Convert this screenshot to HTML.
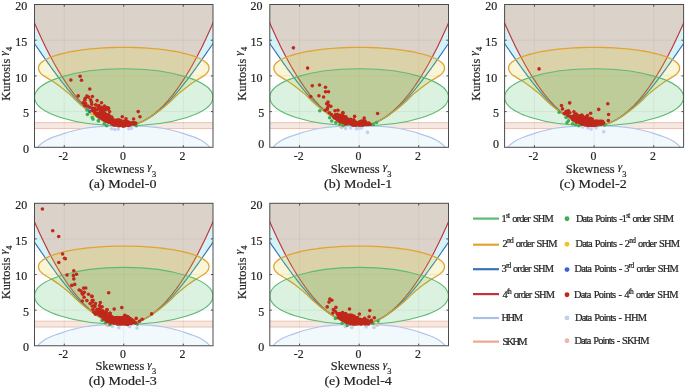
<!DOCTYPE html>
<html lang="en">
<head>
<meta charset="utf-8">
<title>Skewness–Kurtosis model regions</title>
<style>
html,body{margin:0;padding:0;background:#fff;}
body{width:685px;height:389px;overflow:hidden;}
svg{display:block;filter:blur(0.35px);}
text{font-family:"Liberation Serif","DejaVu Serif",serif;fill:#222;}
.tk{font-size:12px;stroke-width:0.2px;}
.lb{font-size:11.8px;stroke-width:0.18px;}
.cap{font-size:13.5px;stroke-width:0.2px;}
.lg{font-size:11.2px;word-spacing:1.2px;stroke-width:0.22px;}
.gm{font-style:italic;font-size:11px;}
.sub{font-size:8px;}
.sup{font-size:8px;}
text{stroke:#222;stroke-width:0.12px;paint-order:stroke;}
</style>
</head>
<body>
<svg width="685" height="389" viewBox="0 0 685 389" role="img" aria-label="Skewness-kurtosis validity regions of SHM, HHM and SKHM for five models">
<rect width="685" height="389" fill="#fff"/>
<clipPath id="clip_a"><rect x="34.5" y="4.5" width="178.5" height="142.8"/></clipPath>
<rect x="34.5" y="4.5" width="178.5" height="142.8" fill="#fff"/>
<g clip-path="url(#clip_a)">
<rect x="32.5" y="122.67" width="182.5" height="5.85" fill="rgba(215,163,131,0.25)"/>
<path d="M34.5 122.67H213M34.5 128.52H213" stroke="#efbba9" stroke-width="0.9" fill="none"/>
<path d="M35.69 150.51C36.06 149.98 37.07 148.34 37.89 147.3C38.71 146.26 39.14 145.52 40.63 144.3C42.12 143.09 44.24 141.37 46.82 140.02C49.39 138.66 53.19 137.26 56.1 136.16C59 135.06 61.68 134.22 64.25 133.4C66.82 132.58 68.34 132.06 71.51 131.25C74.68 130.44 79.14 129.26 83.29 128.52C87.44 127.78 92.12 127.21 96.38 126.81C100.64 126.41 104.31 126.28 108.88 126.13C113.44 125.98 118.79 125.88 123.75 125.88C128.71 125.88 134.06 125.98 138.62 126.13C143.19 126.28 146.86 126.41 151.12 126.81C155.38 127.21 160.06 127.78 164.21 128.52C168.36 129.26 172.82 130.44 175.99 131.25C179.16 132.06 180.68 132.58 183.25 133.4C185.82 134.22 188.5 135.06 191.4 136.16C194.31 137.26 198.11 138.66 200.68 140.02C203.26 141.37 205.38 143.09 206.87 144.3C208.36 145.52 208.79 146.26 209.61 147.3C210.43 148.34 211.44 149.98 211.81 150.51V152.3H35.69Z" fill="#fff"/>
<ellipse cx="123.75" cy="97.32" rx="89.25" ry="28.56" fill="#fff"/>
<path d="M64.25 4.5V147.3M123.75 4.5V147.3M183.25 4.5V147.3M34.5 111.6H213M34.5 75.9H213M34.5 40.2H213" stroke="#000" stroke-opacity="0.10" stroke-width="0.6" fill="none"/>
<path d="M35.69 150.51C36.06 149.98 37.07 148.34 37.89 147.3C38.71 146.26 39.14 145.52 40.63 144.3C42.12 143.09 44.24 141.37 46.82 140.02C49.39 138.66 53.19 137.26 56.1 136.16C59 135.06 61.68 134.22 64.25 133.4C66.82 132.58 68.34 132.06 71.51 131.25C74.68 130.44 79.14 129.26 83.29 128.52C87.44 127.78 92.12 127.21 96.38 126.81C100.64 126.41 104.31 126.28 108.88 126.13C113.44 125.98 118.79 125.88 123.75 125.88C128.71 125.88 134.06 125.98 138.62 126.13C143.19 126.28 146.86 126.41 151.12 126.81C155.38 127.21 160.06 127.78 164.21 128.52C168.36 129.26 172.82 130.44 175.99 131.25C179.16 132.06 180.68 132.58 183.25 133.4C185.82 134.22 188.5 135.06 191.4 136.16C194.31 137.26 198.11 138.66 200.68 140.02C203.26 141.37 205.38 143.09 206.87 144.3C208.36 145.52 208.79 146.26 209.61 147.3C210.43 148.34 211.44 149.98 211.81 150.51V152.3H35.69Z" fill="rgba(150,205,240,0.13)"/>
<path d="M35.69 150.51C36.06 149.98 37.07 148.34 37.89 147.3C38.71 146.26 39.14 145.52 40.63 144.3C42.12 143.09 44.24 141.37 46.82 140.02C49.39 138.66 53.19 137.26 56.1 136.16C59 135.06 61.68 134.22 64.25 133.4C66.82 132.58 68.34 132.06 71.51 131.25C74.68 130.44 79.14 129.26 83.29 128.52C87.44 127.78 92.12 127.21 96.38 126.81C100.64 126.41 104.31 126.28 108.88 126.13C113.44 125.98 118.79 125.88 123.75 125.88C128.71 125.88 134.06 125.98 138.62 126.13C143.19 126.28 146.86 126.41 151.12 126.81C155.38 127.21 160.06 127.78 164.21 128.52C168.36 129.26 172.82 130.44 175.99 131.25C179.16 132.06 180.68 132.58 183.25 133.4C185.82 134.22 188.5 135.06 191.4 136.16C194.31 137.26 198.11 138.66 200.68 140.02C203.26 141.37 205.38 143.09 206.87 144.3C208.36 145.52 208.79 146.26 209.61 147.3C210.43 148.34 211.44 149.98 211.81 150.51" fill="none" stroke="#b0c5ea" stroke-width="1.2" stroke-linejoin="round"/>
<path d="M28.55 35.03L30.04 37.15L31.52 39.28L33.01 41.42L34.5 43.56L35.99 45.71L37.48 47.86L38.96 50.01L40.45 52.16L41.94 54.3L43.42 56.44L44.91 58.58L46.4 60.7L47.89 62.81L49.38 64.91L50.86 67L52.35 69.07L53.84 71.12L55.33 73.15L56.81 75.16L58.3 77.16L59.79 79.12L61.27 81.06L62.76 82.98L64.25 84.87L65.74 86.73L67.22 88.55L68.71 90.35L70.2 92.12L71.69 93.84L73.18 95.54L74.66 97.2L76.15 98.82L77.64 100.4L79.12 101.94L80.61 103.44L82.1 104.9L83.59 106.32L85.07 107.69L86.56 109.02L88.05 110.3L89.54 111.54L91.03 112.73L92.51 113.87L94 114.96L95.49 116.01L96.97 117L98.46 117.95L99.95 118.84L101.44 119.68L102.92 120.48L104.41 121.21L105.9 121.9L107.39 122.53L108.88 123.11L110.36 123.63L111.85 124.1L113.34 124.52L114.83 124.88L116.31 125.18L117.8 125.43L119.29 125.63L120.77 125.77L122.26 125.85L123.75 125.88L125.24 125.85L126.73 125.77L128.21 125.63L129.7 125.43L131.19 125.18L132.68 124.88L134.16 124.52L135.65 124.1L137.14 123.63L138.62 123.11L140.11 122.53L141.6 121.9L143.09 121.21L144.57 120.48L146.06 119.68L147.55 118.84L149.04 117.95L150.52 117L152.01 116.01L153.5 114.96L154.99 113.87L156.47 112.73L157.96 111.54L159.45 110.3L160.94 109.02L162.43 107.69L163.91 106.32L165.4 104.9L166.89 103.44L168.38 101.94L169.86 100.4L171.35 98.82L172.84 97.2L174.33 95.54L175.81 93.84L177.3 92.12L178.79 90.35L180.28 88.55L181.76 86.73L183.25 84.87L184.74 82.98L186.22 81.06L187.71 79.12L189.2 77.16L190.69 75.16L192.17 73.15L193.66 71.12L195.15 69.07L196.64 67L198.12 64.91L199.61 62.81L201.1 60.7L202.59 58.58L204.08 56.44L205.56 54.3L207.05 52.16L208.54 50.01L210.03 47.86L211.51 45.71L213 43.56L214.49 41.42L215.97 39.28L217.46 37.15L218.95 35.03V-0.5H28.55Z" fill="rgba(23,190,207,0.18)"/>
<path d="M28.55 8.9L30.04 12.53L31.52 16.1L33.01 19.61L34.5 23.06L35.99 26.46L37.48 29.8L38.96 33.09L40.45 36.32L41.94 39.49L43.42 42.6L44.91 45.65L46.4 48.65L47.89 51.6L49.38 54.48L50.86 57.31L52.35 60.08L53.84 62.79L55.33 65.45L56.81 68.05L58.3 70.59L59.79 73.07L61.27 75.5L62.76 77.87L64.25 80.18L65.74 82.44L67.22 84.64L68.71 86.78L70.2 88.87L71.69 90.89L73.18 92.86L74.66 94.78L76.15 96.63L77.64 98.43L79.12 100.18L80.61 101.86L82.1 103.49L83.59 105.06L85.07 106.57L86.56 108.03L88.05 109.43L89.54 110.77L91.03 112.06L92.51 113.29L94 114.46L95.49 115.57L96.97 116.63L98.46 117.63L99.95 118.57L101.44 119.45L102.92 120.28L104.41 121.05L105.9 121.77L107.39 122.42L108.88 123.02L110.36 123.57L111.85 124.05L113.34 124.48L114.83 124.85L116.31 125.17L117.8 125.42L119.29 125.62L120.77 125.77L122.26 125.85L123.75 125.88L125.24 125.85L126.73 125.77L128.21 125.62L129.7 125.42L131.19 125.17L132.68 124.85L134.16 124.48L135.65 124.05L137.14 123.57L138.62 123.02L140.11 122.42L141.6 121.77L143.09 121.05L144.57 120.28L146.06 119.45L147.55 118.57L149.04 117.63L150.52 116.63L152.01 115.57L153.5 114.46L154.99 113.29L156.47 112.06L157.96 110.77L159.45 109.43L160.94 108.03L162.43 106.57L163.91 105.06L165.4 103.49L166.89 101.86L168.38 100.18L169.86 98.43L171.35 96.63L172.84 94.78L174.33 92.86L175.81 90.89L177.3 88.87L178.79 86.78L180.28 84.64L181.76 82.44L183.25 80.18L184.74 77.87L186.22 75.5L187.71 73.07L189.2 70.59L190.69 68.05L192.17 65.45L193.66 62.79L195.15 60.08L196.64 57.31L198.12 54.48L199.61 51.6L201.1 48.65L202.59 45.65L204.08 42.6L205.56 39.49L207.05 36.32L208.54 33.09L210.03 29.8L211.51 26.46L213 23.06L214.49 19.61L215.97 16.1L217.46 12.53L218.95 8.9V-0.5H28.55Z" fill="rgba(244,82,24,0.205)"/>
<path d="M28.55 8.9L30.04 12.53L31.52 16.1L33.01 19.61L34.5 23.06L35.99 26.46L37.48 29.8L38.96 33.09L40.45 36.32L41.94 39.49L43.42 42.6L44.91 45.65L46.4 48.65L47.89 51.6L49.38 54.48L50.86 57.31L52.35 60.08L53.84 62.79L55.33 65.45L56.81 68.05L58.3 70.59L59.79 73.07L61.27 75.5L62.76 77.87L64.25 80.18L65.74 82.44L67.22 84.64L68.71 86.78L70.2 88.87L71.69 90.89L73.18 92.86L74.66 94.78L76.15 96.63L77.64 98.43L79.12 100.18L80.61 101.86L82.1 103.49L83.59 105.06L85.07 106.57L86.56 108.03L88.05 109.43L89.54 110.77L91.03 112.06L92.51 113.29L94 114.46L95.49 115.57L96.97 116.63L98.46 117.63L99.95 118.57L101.44 119.45L102.92 120.28L104.41 121.05L105.9 121.77L107.39 122.42L108.88 123.02L110.36 123.57L111.85 124.05L113.34 124.48L114.83 124.85L116.31 125.17L117.8 125.42L119.29 125.62L120.77 125.77L122.26 125.85L123.75 125.88L125.24 125.85L126.73 125.77L128.21 125.62L129.7 125.42L131.19 125.17L132.68 124.85L134.16 124.48L135.65 124.05L137.14 123.57L138.62 123.02L140.11 122.42L141.6 121.77L143.09 121.05L144.57 120.28L146.06 119.45L147.55 118.57L149.04 117.63L150.52 116.63L152.01 115.57L153.5 114.46L154.99 113.29L156.47 112.06L157.96 110.77L159.45 109.43L160.94 108.03L162.43 106.57L163.91 105.06L165.4 103.49L166.89 101.86L168.38 100.18L169.86 98.43L171.35 96.63L172.84 94.78L174.33 92.86L175.81 90.89L177.3 88.87L178.79 86.78L180.28 84.64L181.76 82.44L183.25 80.18L184.74 77.87L186.22 75.5L187.71 73.07L189.2 70.59L190.69 68.05L192.17 65.45L193.66 62.79L195.15 60.08L196.64 57.31L198.12 54.48L199.61 51.6L201.1 48.65L202.59 45.65L204.08 42.6L205.56 39.49L207.05 36.32L208.54 33.09L210.03 29.8L211.51 26.46L213 23.06L214.49 19.61L215.97 16.1L217.46 12.53L218.95 8.9" fill="none" stroke="#c4323a" stroke-width="1.15"/>
<path d="M28.55 35.03L30.04 37.15L31.52 39.28L33.01 41.42L34.5 43.56L35.99 45.71L37.48 47.86L38.96 50.01L40.45 52.16L41.94 54.3L43.42 56.44L44.91 58.58L46.4 60.7L47.89 62.81L49.38 64.91L50.86 67L52.35 69.07L53.84 71.12L55.33 73.15L56.81 75.16L58.3 77.16L59.79 79.12L61.27 81.06L62.76 82.98L64.25 84.87L65.74 86.73L67.22 88.55L68.71 90.35L70.2 92.12L71.69 93.84L73.18 95.54L74.66 97.2L76.15 98.82L77.64 100.4L79.12 101.94L80.61 103.44L82.1 104.9L83.59 106.32L85.07 107.69L86.56 109.02L88.05 110.3L89.54 111.54L91.03 112.73L92.51 113.87L94 114.96L95.49 116.01L96.97 117L98.46 117.95L99.95 118.84L101.44 119.68L102.92 120.48L104.41 121.21L105.9 121.9L107.39 122.53L108.88 123.11L110.36 123.63L111.85 124.1L113.34 124.52L114.83 124.88L116.31 125.18L117.8 125.43L119.29 125.63L120.77 125.77L122.26 125.85L123.75 125.88L125.24 125.85L126.73 125.77L128.21 125.63L129.7 125.43L131.19 125.18L132.68 124.88L134.16 124.52L135.65 124.1L137.14 123.63L138.62 123.11L140.11 122.53L141.6 121.9L143.09 121.21L144.57 120.48L146.06 119.68L147.55 118.84L149.04 117.95L150.52 117L152.01 116.01L153.5 114.96L154.99 113.87L156.47 112.73L157.96 111.54L159.45 110.3L160.94 109.02L162.43 107.69L163.91 106.32L165.4 104.9L166.89 103.44L168.38 101.94L169.86 100.4L171.35 98.82L172.84 97.2L174.33 95.54L175.81 93.84L177.3 92.12L178.79 90.35L180.28 88.55L181.76 86.73L183.25 84.87L184.74 82.98L186.22 81.06L187.71 79.12L189.2 77.16L190.69 75.16L192.17 73.15L193.66 71.12L195.15 69.07L196.64 67L198.12 64.91L199.61 62.81L201.1 60.7L202.59 58.58L204.08 56.44L205.56 54.3L207.05 52.16L208.54 50.01L210.03 47.86L211.51 45.71L213 43.56L214.49 41.42L215.97 39.28L217.46 37.15L218.95 35.03" fill="none" stroke="#3574b8" stroke-width="1.15"/>
<path d="M123.75 125.88L132.73 124.89L136.45 123.91L139.3 122.92L141.69 121.94L143.78 120.95L145.66 119.97L147.38 118.98L148.98 118L150.51 117.01L151.97 116.03L153.4 115.04L154.8 114.06L156.17 113.07L157.52 112.09L158.84 111.1L160.13 110.12L161.4 109.13L162.64 108.15L163.85 107.16L165.04 106.18L166.21 105.19L167.38 104.21L168.52 103.22L169.64 102.24L170.73 101.25L171.78 100.27L172.78 99.28L173.74 98.3L174.68 97.31L175.65 96.33L176.66 95.34L177.73 94.36L178.86 93.37L180.03 92.39L181.22 91.4L182.45 90.42L183.7 89.43L184.97 88.45L186.24 87.46L187.53 86.48L188.85 85.49L190.22 84.51L191.63 83.52L193.07 82.54L194.53 81.55L196.05 80.57L197.63 79.58L199.26 78.6L200.89 77.61L202.48 76.63L204 75.64L205.24 74.66L206.34 73.67L207.26 72.69L207.94 71.7L208.44 70.72L208.74 69.73L208.91 68.75L208.98 67.76L208.92 66.96L208.72 66.16L208.39 65.36L207.93 64.57L207.35 63.78L206.63 62.99L205.78 62.22L204.81 61.45L203.72 60.69L202.5 59.95L201.15 59.21L199.69 58.49L198.12 57.78L196.42 57.09L194.62 56.42L192.71 55.76L190.69 55.12L188.56 54.5L186.34 53.9L184.02 53.32L181.61 52.77L179.1 52.23L176.52 51.72L173.85 51.24L171.1 50.78L168.28 50.35L165.4 49.94L162.45 49.57L159.43 49.22L156.37 48.89L153.25 48.6L150.09 48.34L146.89 48.11L143.65 47.9L140.38 47.73L137.08 47.59L133.77 47.48L130.44 47.4L127.1 47.36L123.75 47.34L120.4 47.36L117.06 47.4L113.73 47.48L110.42 47.59L107.12 47.73L103.85 47.9L100.61 48.11L97.41 48.34L94.25 48.6L91.13 48.89L88.07 49.22L85.05 49.57L82.1 49.94L79.22 50.35L76.4 50.78L73.65 51.24L70.98 51.72L68.4 52.23L65.89 52.77L63.48 53.32L61.16 53.9L58.94 54.5L56.81 55.12L54.79 55.76L52.88 56.42L51.08 57.09L49.38 57.78L47.81 58.49L46.35 59.21L45 59.95L43.78 60.69L42.69 61.45L41.72 62.22L40.87 62.99L40.15 63.78L39.57 64.57L39.11 65.36L38.78 66.16L38.58 66.96L38.52 67.76L38.59 68.75L38.76 69.73L39.06 70.72L39.56 71.7L40.24 72.69L41.16 73.67L42.26 74.66L43.5 75.64L45.02 76.63L46.61 77.61L48.24 78.6L49.87 79.58L51.45 80.57L52.97 81.55L54.43 82.54L55.87 83.52L57.28 84.51L58.65 85.49L59.97 86.48L61.26 87.46L62.53 88.45L63.8 89.43L65.05 90.42L66.28 91.4L67.47 92.39L68.64 93.37L69.77 94.36L70.84 95.34L71.85 96.33L72.82 97.31L73.76 98.3L74.72 99.28L75.72 100.27L76.77 101.25L77.86 102.24L78.98 103.22L80.12 104.21L81.29 105.19L82.46 106.18L83.65 107.16L84.86 108.15L86.1 109.13L87.37 110.12L88.66 111.1L89.98 112.09L91.33 113.07L92.7 114.06L94.1 115.04L95.53 116.03L96.99 117.01L98.52 118L100.12 118.98L101.84 119.97L103.72 120.95L105.81 121.94L108.2 122.92L111.05 123.91L114.77 124.89Z" fill="rgba(222,210,48,0.20)" stroke="#e3a332" stroke-width="1.3"/>
<ellipse cx="123.75" cy="97.32" rx="89.25" ry="28.56" fill="rgba(49,178,73,0.17)" stroke="#5dba74" stroke-width="1.15"/>
<g fill="#c3d0ee"><circle cx="111.6" cy="128.7" r="1.8"/><circle cx="114.9" cy="129.5" r="1.8"/><circle cx="118.2" cy="129.1" r="1.8"/><circle cx="128.9" cy="128.7" r="1.8"/><circle cx="131.4" cy="128.3" r="1.8"/></g>
<g fill="#3fae55"><circle cx="86.9" cy="109.9" r="1.8"/><circle cx="87.4" cy="114.4" r="1.8"/><circle cx="92.2" cy="117.5" r="1.8"/><circle cx="93" cy="119.1" r="1.8"/><circle cx="98.4" cy="120.8" r="1.8"/><circle cx="98.5" cy="120.9" r="1.8"/><circle cx="104.2" cy="123.7" r="1.8"/><circle cx="106.7" cy="125.8" r="1.8"/><circle cx="136.3" cy="125.8" r="1.8"/></g>
<g fill="#f0c420"><circle cx="91.4" cy="113.8" r="1.8"/></g>
<g fill="#3b62d8"><circle cx="89.6" cy="111.6" r="1.8"/></g>
<g fill="#c0281c"><circle cx="80.1" cy="76.2" r="1.8"/><circle cx="70.9" cy="80" r="1.8"/><circle cx="81.5" cy="80.3" r="1.8"/><circle cx="89.8" cy="89" r="1.8"/><circle cx="78.2" cy="95.9" r="1.8"/><circle cx="86.9" cy="96.1" r="1.8"/><circle cx="88.5" cy="97.1" r="1.8"/><circle cx="92.4" cy="96.5" r="1.8"/><circle cx="85.2" cy="98.2" r="1.8"/><circle cx="90.6" cy="99.8" r="1.8"/><circle cx="84.8" cy="100.2" r="1.8"/><circle cx="97.1" cy="100.6" r="1.8"/><circle cx="91.4" cy="101.9" r="1.8"/><circle cx="83.2" cy="102.7" r="1.8"/><circle cx="101.5" cy="102.7" r="1.8"/><circle cx="85.6" cy="103.5" r="1.8"/><circle cx="95.7" cy="104.7" r="1.8"/><circle cx="91.8" cy="104.3" r="1.8"/><circle cx="84.8" cy="105.6" r="1.8"/><circle cx="87.7" cy="106" r="1.8"/><circle cx="98.8" cy="105.6" r="1.8"/><circle cx="104.5" cy="106.1" r="1.8"/><circle cx="89.7" cy="107.2" r="1.8"/><circle cx="92.2" cy="108" r="1.8"/><circle cx="101.3" cy="107.2" r="1.8"/><circle cx="108.4" cy="108.4" r="1.8"/><circle cx="98.8" cy="108.4" r="1.8"/><circle cx="104.5" cy="109.3" r="1.8"/><circle cx="92.2" cy="110.5" r="1.8"/><circle cx="101.3" cy="110.9" r="1.8"/><circle cx="94.7" cy="112.6" r="1.8"/><circle cx="96.3" cy="114.2" r="1.8"/><circle cx="108.5" cy="108.4" r="1.8"/><circle cx="138.2" cy="111.6" r="1.8"/><circle cx="140" cy="116.7" r="1.8"/><circle cx="122.3" cy="116.7" r="1.8"/><circle cx="126" cy="118.8" r="1.8"/><circle cx="133.6" cy="119" r="1.8"/><circle cx="98" cy="106.8" r="1.8"/><circle cx="102.9" cy="108.4" r="1.8"/><circle cx="106.2" cy="109.7" r="1.8"/><circle cx="100.4" cy="109.7" r="1.8"/><circle cx="97.1" cy="109.7" r="1.8"/><circle cx="94.7" cy="108.4" r="1.8"/><circle cx="94.7" cy="110.9" r="1.8"/><circle cx="107" cy="107.6" r="1.8"/><circle cx="103.5" cy="111" r="1.8"/><circle cx="109.6" cy="111.6" r="1.8"/><circle cx="100" cy="112.6" r="1.8"/><circle cx="97.3" cy="113.2" r="1.8"/><circle cx="99.4" cy="113.4" r="1.8"/><circle cx="100.3" cy="113.7" r="1.8"/><circle cx="102.1" cy="113.2" r="1.8"/><circle cx="103.4" cy="113.6" r="1.8"/><circle cx="104.9" cy="113.4" r="1.8"/><circle cx="97.2" cy="115.3" r="1.8"/><circle cx="98.5" cy="114.6" r="1.8"/><circle cx="100.3" cy="115.3" r="1.8"/><circle cx="101.6" cy="114.9" r="1.8"/><circle cx="102.8" cy="114.8" r="1.8"/><circle cx="104.2" cy="115.1" r="1.8"/><circle cx="105.9" cy="114.6" r="1.8"/><circle cx="107.1" cy="115.1" r="1.8"/><circle cx="108.8" cy="114.9" r="1.8"/><circle cx="98" cy="116.1" r="1.8"/><circle cx="99.3" cy="116" r="1.8"/><circle cx="100.3" cy="116" r="1.8"/><circle cx="102.6" cy="116.3" r="1.8"/><circle cx="104.1" cy="116.2" r="1.8"/><circle cx="105" cy="116.5" r="1.8"/><circle cx="107" cy="115.8" r="1.8"/><circle cx="108.4" cy="115.9" r="1.8"/><circle cx="109.4" cy="116.6" r="1.8"/><circle cx="100.1" cy="117.7" r="1.8"/><circle cx="101.8" cy="117.4" r="1.8"/><circle cx="102.8" cy="117.4" r="1.8"/><circle cx="104.3" cy="117.8" r="1.8"/><circle cx="106.3" cy="117.3" r="1.8"/><circle cx="107.3" cy="117.6" r="1.8"/><circle cx="109" cy="117.6" r="1.8"/><circle cx="110.2" cy="117.1" r="1.8"/><circle cx="111.7" cy="117.1" r="1.8"/><circle cx="102.1" cy="118.7" r="1.8"/><circle cx="103.5" cy="118.4" r="1.8"/><circle cx="105.3" cy="118.8" r="1.8"/><circle cx="106.8" cy="118.4" r="1.8"/><circle cx="108.1" cy="118.5" r="1.8"/><circle cx="109.4" cy="118.6" r="1.8"/><circle cx="111.5" cy="118.7" r="1.8"/><circle cx="112.6" cy="118.9" r="1.8"/><circle cx="104.1" cy="120.3" r="1.8"/><circle cx="105.5" cy="120.6" r="1.8"/><circle cx="107.7" cy="120.3" r="1.8"/><circle cx="108.7" cy="120.5" r="1.8"/><circle cx="110.9" cy="119.8" r="1.8"/><circle cx="112.2" cy="120.4" r="1.8"/><circle cx="113.6" cy="120.3" r="1.8"/><circle cx="114.9" cy="120.5" r="1.8"/><circle cx="116.9" cy="120" r="1.8"/><circle cx="118.2" cy="120.1" r="1.8"/><circle cx="119.1" cy="120" r="1.8"/><circle cx="120.6" cy="120.5" r="1.8"/><circle cx="106.4" cy="121.4" r="1.8"/><circle cx="108.3" cy="121.3" r="1.8"/><circle cx="109.7" cy="121.3" r="1.8"/><circle cx="111.2" cy="121" r="1.8"/><circle cx="112.6" cy="121.4" r="1.8"/><circle cx="114" cy="121.3" r="1.8"/><circle cx="116" cy="121.6" r="1.8"/><circle cx="117.2" cy="121.6" r="1.8"/><circle cx="118.6" cy="121.2" r="1.8"/><circle cx="119.8" cy="121.2" r="1.8"/><circle cx="121.8" cy="121.8" r="1.8"/><circle cx="123.5" cy="121.4" r="1.8"/><circle cx="125.1" cy="121.4" r="1.8"/><circle cx="126.5" cy="121.4" r="1.8"/><circle cx="127.9" cy="121.9" r="1.8"/><circle cx="109" cy="122.4" r="1.8"/><circle cx="110.7" cy="122.7" r="1.8"/><circle cx="111.9" cy="122.3" r="1.8"/><circle cx="113.5" cy="123" r="1.8"/><circle cx="114.9" cy="122.6" r="1.8"/><circle cx="116.6" cy="122.3" r="1.8"/><circle cx="118" cy="123.1" r="1.8"/><circle cx="119.6" cy="122.7" r="1.8"/><circle cx="121.1" cy="122.8" r="1.8"/><circle cx="122.2" cy="122.5" r="1.8"/><circle cx="124.3" cy="122.5" r="1.8"/><circle cx="125.1" cy="123" r="1.8"/><circle cx="127" cy="122.6" r="1.8"/><circle cx="128.5" cy="123" r="1.8"/><circle cx="129.7" cy="122.9" r="1.8"/><circle cx="131.6" cy="123" r="1.8"/><circle cx="132.7" cy="122.8" r="1.8"/><circle cx="134.2" cy="122.8" r="1.8"/><circle cx="135.7" cy="123" r="1.8"/><circle cx="112.5" cy="124.2" r="1.8"/><circle cx="114.4" cy="123.9" r="1.8"/><circle cx="115.3" cy="124" r="1.8"/><circle cx="117.2" cy="123.7" r="1.8"/><circle cx="118.4" cy="123.6" r="1.8"/><circle cx="120.3" cy="124.4" r="1.8"/><circle cx="121.4" cy="123.6" r="1.8"/><circle cx="123.4" cy="124.3" r="1.8"/><circle cx="125.1" cy="124.2" r="1.8"/><circle cx="126.1" cy="124.4" r="1.8"/><circle cx="127.4" cy="124.2" r="1.8"/><circle cx="128.8" cy="124" r="1.8"/><circle cx="130.7" cy="123.9" r="1.8"/><circle cx="131.9" cy="123.8" r="1.8"/><circle cx="134" cy="124" r="1.8"/><circle cx="135.3" cy="123.8" r="1.8"/><circle cx="113.8" cy="124.9" r="1.8"/><circle cx="114.7" cy="125" r="1.8"/><circle cx="116.1" cy="124.9" r="1.8"/><circle cx="118.1" cy="125.6" r="1.8"/><circle cx="119.6" cy="125.7" r="1.8"/><circle cx="121.1" cy="125.3" r="1.8"/><circle cx="122.6" cy="125.8" r="1.8"/><circle cx="124.1" cy="125.1" r="1.8"/><circle cx="125.1" cy="125.7" r="1.8"/><circle cx="127" cy="125.2" r="1.8"/><circle cx="128.5" cy="125.4" r="1.8"/><circle cx="130" cy="125" r="1.8"/><circle cx="123.3" cy="126.3" r="1.8"/></g>
</g>
<path d="M64.25 147.3v-2.1M64.25 4.5v2.1M123.75 147.3v-2.1M123.75 4.5v2.1M183.25 147.3v-2.1M183.25 4.5v2.1M34.5 111.6h2.1M213 111.6h-2.1M34.5 75.9h2.1M213 75.9h-2.1M34.5 40.2h2.1M213 40.2h-2.1" stroke="#222" stroke-width="0.8" fill="none"/>
<rect x="34.5" y="4.5" width="178.5" height="142.8" fill="none" stroke="#4c4c4c" stroke-width="1"/>
<text class="tk" transform="translate(29 152.7) scale(1 1)" text-anchor="end">0</text>
<text class="tk" transform="translate(29 117.1) scale(1 1)" text-anchor="end">5</text>
<text class="tk" transform="translate(27.2 81.6) scale(1 1)" text-anchor="end">10</text>
<text class="tk" transform="translate(27.2 46.2) scale(1 1)" text-anchor="end">15</text>
<text class="tk" transform="translate(27.2 9.8) scale(1 1)" text-anchor="end">20</text>
<text class="tk" transform="translate(63.35 159.7) scale(0.99 1)" text-anchor="middle">-2</text>
<text class="tk" transform="translate(123.05 159.7) scale(0.99 1)" text-anchor="middle">0</text>
<text class="tk" transform="translate(182.55 159.7) scale(0.99 1)" text-anchor="middle">2</text>
<text class="lb" transform="translate(125.75 172.6) scale(1.05 1)" text-anchor="middle">Skewness <tspan class="gm" dy="-2.2">γ</tspan><tspan class="sub" dy="6.3">3</tspan></text>
<text class="lb" transform="translate(10.3 73.8) rotate(-90) scale(1.05 1)" text-anchor="middle">Kurtosis <tspan class="gm" dy="-3.6">γ</tspan><tspan class="sub" dy="4.9">4</tspan></text>
<text class="cap" transform="translate(122.75 188.4) scale(1.04 1)" text-anchor="middle">(a) Model-0</text>
<clipPath id="clip_b"><rect x="269.8" y="4.5" width="178.7" height="142.8"/></clipPath>
<rect x="269.8" y="4.5" width="178.7" height="142.8" fill="#fff"/>
<g clip-path="url(#clip_b)">
<rect x="267.8" y="122.67" width="182.7" height="5.85" fill="rgba(215,163,131,0.25)"/>
<path d="M269.8 122.67H448.5M269.8 128.52H448.5" stroke="#efbba9" stroke-width="0.9" fill="none"/>
<path d="M270.99 150.51C271.36 149.98 272.37 148.34 273.2 147.3C274.02 146.26 274.45 145.52 275.94 144.3C277.42 143.09 279.55 141.37 282.13 140.02C284.71 138.66 288.51 137.26 291.42 136.16C294.33 135.06 297.01 134.22 299.58 133.4C302.15 132.58 303.67 132.06 306.85 131.25C310.03 130.44 314.49 129.26 318.64 128.52C322.79 127.78 327.48 127.21 331.75 126.81C336.02 126.41 339.69 126.28 344.26 126.13C348.83 125.98 354.19 125.88 359.15 125.88C364.11 125.88 369.47 125.98 374.04 126.13C378.61 126.28 382.28 126.41 386.55 126.81C390.82 127.21 395.51 127.78 399.66 128.52C403.81 129.26 408.27 130.44 411.45 131.25C414.63 132.06 416.15 132.58 418.72 133.4C421.29 134.22 423.97 135.06 426.88 136.16C429.79 137.26 433.59 138.66 436.17 140.02C438.75 141.37 440.88 143.09 442.36 144.3C443.85 145.52 444.28 146.26 445.1 147.3C445.93 148.34 446.94 149.98 447.31 150.51V152.3H270.99Z" fill="#fff"/>
<ellipse cx="359.15" cy="97.32" rx="89.35" ry="28.56" fill="#fff"/>
<path d="M299.58 4.5V147.3M359.15 4.5V147.3M418.72 4.5V147.3M269.8 111.6H448.5M269.8 75.9H448.5M269.8 40.2H448.5" stroke="#000" stroke-opacity="0.10" stroke-width="0.6" fill="none"/>
<path d="M270.99 150.51C271.36 149.98 272.37 148.34 273.2 147.3C274.02 146.26 274.45 145.52 275.94 144.3C277.42 143.09 279.55 141.37 282.13 140.02C284.71 138.66 288.51 137.26 291.42 136.16C294.33 135.06 297.01 134.22 299.58 133.4C302.15 132.58 303.67 132.06 306.85 131.25C310.03 130.44 314.49 129.26 318.64 128.52C322.79 127.78 327.48 127.21 331.75 126.81C336.02 126.41 339.69 126.28 344.26 126.13C348.83 125.98 354.19 125.88 359.15 125.88C364.11 125.88 369.47 125.98 374.04 126.13C378.61 126.28 382.28 126.41 386.55 126.81C390.82 127.21 395.51 127.78 399.66 128.52C403.81 129.26 408.27 130.44 411.45 131.25C414.63 132.06 416.15 132.58 418.72 133.4C421.29 134.22 423.97 135.06 426.88 136.16C429.79 137.26 433.59 138.66 436.17 140.02C438.75 141.37 440.88 143.09 442.36 144.3C443.85 145.52 444.28 146.26 445.1 147.3C445.93 148.34 446.94 149.98 447.31 150.51V152.3H270.99Z" fill="rgba(150,205,240,0.13)"/>
<path d="M270.99 150.51C271.36 149.98 272.37 148.34 273.2 147.3C274.02 146.26 274.45 145.52 275.94 144.3C277.42 143.09 279.55 141.37 282.13 140.02C284.71 138.66 288.51 137.26 291.42 136.16C294.33 135.06 297.01 134.22 299.58 133.4C302.15 132.58 303.67 132.06 306.85 131.25C310.03 130.44 314.49 129.26 318.64 128.52C322.79 127.78 327.48 127.21 331.75 126.81C336.02 126.41 339.69 126.28 344.26 126.13C348.83 125.98 354.19 125.88 359.15 125.88C364.11 125.88 369.47 125.98 374.04 126.13C378.61 126.28 382.28 126.41 386.55 126.81C390.82 127.21 395.51 127.78 399.66 128.52C403.81 129.26 408.27 130.44 411.45 131.25C414.63 132.06 416.15 132.58 418.72 133.4C421.29 134.22 423.97 135.06 426.88 136.16C429.79 137.26 433.59 138.66 436.17 140.02C438.75 141.37 440.88 143.09 442.36 144.3C443.85 145.52 444.28 146.26 445.1 147.3C445.93 148.34 446.94 149.98 447.31 150.51" fill="none" stroke="#b0c5ea" stroke-width="1.2" stroke-linejoin="round"/>
<path d="M263.84 35.03L265.33 37.15L266.82 39.28L268.31 41.42L269.8 43.56L271.29 45.71L272.78 47.86L274.27 50.01L275.76 52.16L277.25 54.3L278.74 56.44L280.22 58.58L281.71 60.7L283.2 62.81L284.69 64.91L286.18 67L287.67 69.07L289.16 71.12L290.65 73.15L292.14 75.16L293.63 77.16L295.12 79.12L296.61 81.06L298.09 82.98L299.58 84.87L301.07 86.73L302.56 88.55L304.05 90.35L305.54 92.12L307.03 93.84L308.52 95.54L310.01 97.2L311.5 98.82L312.99 100.4L314.48 101.94L315.96 103.44L317.45 104.9L318.94 106.32L320.43 107.69L321.92 109.02L323.41 110.3L324.9 111.54L326.39 112.73L327.88 113.87L329.37 114.96L330.86 116.01L332.35 117L333.83 117.95L335.32 118.84L336.81 119.68L338.3 120.48L339.79 121.21L341.28 121.9L342.77 122.53L344.26 123.11L345.75 123.63L347.24 124.1L348.73 124.52L350.22 124.88L351.7 125.18L353.19 125.43L354.68 125.63L356.17 125.77L357.66 125.85L359.15 125.88L360.64 125.85L362.13 125.77L363.62 125.63L365.11 125.43L366.6 125.18L368.08 124.88L369.57 124.52L371.06 124.1L372.55 123.63L374.04 123.11L375.53 122.53L377.02 121.9L378.51 121.21L380 120.48L381.49 119.68L382.98 118.84L384.47 117.95L385.95 117L387.44 116.01L388.93 114.96L390.42 113.87L391.91 112.73L393.4 111.54L394.89 110.3L396.38 109.02L397.87 107.69L399.36 106.32L400.85 104.9L402.34 103.44L403.82 101.94L405.31 100.4L406.8 98.82L408.29 97.2L409.78 95.54L411.27 93.84L412.76 92.12L414.25 90.35L415.74 88.55L417.23 86.73L418.72 84.87L420.21 82.98L421.69 81.06L423.18 79.12L424.67 77.16L426.16 75.16L427.65 73.15L429.14 71.12L430.63 69.07L432.12 67L433.61 64.91L435.1 62.81L436.59 60.7L438.08 58.58L439.56 56.44L441.05 54.3L442.54 52.16L444.03 50.01L445.52 47.86L447.01 45.71L448.5 43.56L449.99 41.42L451.48 39.28L452.97 37.15L454.46 35.03V-0.5H263.84Z" fill="rgba(23,190,207,0.18)"/>
<path d="M263.84 8.9L265.33 12.53L266.82 16.1L268.31 19.61L269.8 23.06L271.29 26.46L272.78 29.8L274.27 33.09L275.76 36.32L277.25 39.49L278.74 42.6L280.22 45.65L281.71 48.65L283.2 51.6L284.69 54.48L286.18 57.31L287.67 60.08L289.16 62.79L290.65 65.45L292.14 68.05L293.63 70.59L295.12 73.07L296.61 75.5L298.09 77.87L299.58 80.18L301.07 82.44L302.56 84.64L304.05 86.78L305.54 88.87L307.03 90.89L308.52 92.86L310.01 94.78L311.5 96.63L312.99 98.43L314.48 100.18L315.96 101.86L317.45 103.49L318.94 105.06L320.43 106.57L321.92 108.03L323.41 109.43L324.9 110.77L326.39 112.06L327.88 113.29L329.37 114.46L330.86 115.57L332.35 116.63L333.83 117.63L335.32 118.57L336.81 119.45L338.3 120.28L339.79 121.05L341.28 121.77L342.77 122.42L344.26 123.02L345.75 123.57L347.24 124.05L348.73 124.48L350.22 124.85L351.7 125.17L353.19 125.42L354.68 125.62L356.17 125.77L357.66 125.85L359.15 125.88L360.64 125.85L362.13 125.77L363.62 125.62L365.11 125.42L366.6 125.17L368.08 124.85L369.57 124.48L371.06 124.05L372.55 123.57L374.04 123.02L375.53 122.42L377.02 121.77L378.51 121.05L380 120.28L381.49 119.45L382.98 118.57L384.47 117.63L385.95 116.63L387.44 115.57L388.93 114.46L390.42 113.29L391.91 112.06L393.4 110.77L394.89 109.43L396.38 108.03L397.87 106.57L399.36 105.06L400.85 103.49L402.34 101.86L403.82 100.18L405.31 98.43L406.8 96.63L408.29 94.78L409.78 92.86L411.27 90.89L412.76 88.87L414.25 86.78L415.74 84.64L417.23 82.44L418.72 80.18L420.21 77.87L421.69 75.5L423.18 73.07L424.67 70.59L426.16 68.05L427.65 65.45L429.14 62.79L430.63 60.08L432.12 57.31L433.61 54.48L435.1 51.6L436.59 48.65L438.08 45.65L439.56 42.6L441.05 39.49L442.54 36.32L444.03 33.09L445.52 29.8L447.01 26.46L448.5 23.06L449.99 19.61L451.48 16.1L452.97 12.53L454.46 8.9V-0.5H263.84Z" fill="rgba(244,82,24,0.205)"/>
<path d="M263.84 8.9L265.33 12.53L266.82 16.1L268.31 19.61L269.8 23.06L271.29 26.46L272.78 29.8L274.27 33.09L275.76 36.32L277.25 39.49L278.74 42.6L280.22 45.65L281.71 48.65L283.2 51.6L284.69 54.48L286.18 57.31L287.67 60.08L289.16 62.79L290.65 65.45L292.14 68.05L293.63 70.59L295.12 73.07L296.61 75.5L298.09 77.87L299.58 80.18L301.07 82.44L302.56 84.64L304.05 86.78L305.54 88.87L307.03 90.89L308.52 92.86L310.01 94.78L311.5 96.63L312.99 98.43L314.48 100.18L315.96 101.86L317.45 103.49L318.94 105.06L320.43 106.57L321.92 108.03L323.41 109.43L324.9 110.77L326.39 112.06L327.88 113.29L329.37 114.46L330.86 115.57L332.35 116.63L333.83 117.63L335.32 118.57L336.81 119.45L338.3 120.28L339.79 121.05L341.28 121.77L342.77 122.42L344.26 123.02L345.75 123.57L347.24 124.05L348.73 124.48L350.22 124.85L351.7 125.17L353.19 125.42L354.68 125.62L356.17 125.77L357.66 125.85L359.15 125.88L360.64 125.85L362.13 125.77L363.62 125.62L365.11 125.42L366.6 125.17L368.08 124.85L369.57 124.48L371.06 124.05L372.55 123.57L374.04 123.02L375.53 122.42L377.02 121.77L378.51 121.05L380 120.28L381.49 119.45L382.98 118.57L384.47 117.63L385.95 116.63L387.44 115.57L388.93 114.46L390.42 113.29L391.91 112.06L393.4 110.77L394.89 109.43L396.38 108.03L397.87 106.57L399.36 105.06L400.85 103.49L402.34 101.86L403.82 100.18L405.31 98.43L406.8 96.63L408.29 94.78L409.78 92.86L411.27 90.89L412.76 88.87L414.25 86.78L415.74 84.64L417.23 82.44L418.72 80.18L420.21 77.87L421.69 75.5L423.18 73.07L424.67 70.59L426.16 68.05L427.65 65.45L429.14 62.79L430.63 60.08L432.12 57.31L433.61 54.48L435.1 51.6L436.59 48.65L438.08 45.65L439.56 42.6L441.05 39.49L442.54 36.32L444.03 33.09L445.52 29.8L447.01 26.46L448.5 23.06L449.99 19.61L451.48 16.1L452.97 12.53L454.46 8.9" fill="none" stroke="#c4323a" stroke-width="1.15"/>
<path d="M263.84 35.03L265.33 37.15L266.82 39.28L268.31 41.42L269.8 43.56L271.29 45.71L272.78 47.86L274.27 50.01L275.76 52.16L277.25 54.3L278.74 56.44L280.22 58.58L281.71 60.7L283.2 62.81L284.69 64.91L286.18 67L287.67 69.07L289.16 71.12L290.65 73.15L292.14 75.16L293.63 77.16L295.12 79.12L296.61 81.06L298.09 82.98L299.58 84.87L301.07 86.73L302.56 88.55L304.05 90.35L305.54 92.12L307.03 93.84L308.52 95.54L310.01 97.2L311.5 98.82L312.99 100.4L314.48 101.94L315.96 103.44L317.45 104.9L318.94 106.32L320.43 107.69L321.92 109.02L323.41 110.3L324.9 111.54L326.39 112.73L327.88 113.87L329.37 114.96L330.86 116.01L332.35 117L333.83 117.95L335.32 118.84L336.81 119.68L338.3 120.48L339.79 121.21L341.28 121.9L342.77 122.53L344.26 123.11L345.75 123.63L347.24 124.1L348.73 124.52L350.22 124.88L351.7 125.18L353.19 125.43L354.68 125.63L356.17 125.77L357.66 125.85L359.15 125.88L360.64 125.85L362.13 125.77L363.62 125.63L365.11 125.43L366.6 125.18L368.08 124.88L369.57 124.52L371.06 124.1L372.55 123.63L374.04 123.11L375.53 122.53L377.02 121.9L378.51 121.21L380 120.48L381.49 119.68L382.98 118.84L384.47 117.95L385.95 117L387.44 116.01L388.93 114.96L390.42 113.87L391.91 112.73L393.4 111.54L394.89 110.3L396.38 109.02L397.87 107.69L399.36 106.32L400.85 104.9L402.34 103.44L403.82 101.94L405.31 100.4L406.8 98.82L408.29 97.2L409.78 95.54L411.27 93.84L412.76 92.12L414.25 90.35L415.74 88.55L417.23 86.73L418.72 84.87L420.21 82.98L421.69 81.06L423.18 79.12L424.67 77.16L426.16 75.16L427.65 73.15L429.14 71.12L430.63 69.07L432.12 67L433.61 64.91L435.1 62.81L436.59 60.7L438.08 58.58L439.56 56.44L441.05 54.3L442.54 52.16L444.03 50.01L445.52 47.86L447.01 45.71L448.5 43.56L449.99 41.42L451.48 39.28L452.97 37.15L454.46 35.03" fill="none" stroke="#3574b8" stroke-width="1.15"/>
<path d="M359.15 125.88L368.14 124.89L371.86 123.91L374.71 122.92L377.11 121.94L379.21 120.95L381.08 119.97L382.8 118.98L384.41 118L385.94 117.01L387.4 116.03L388.83 115.04L390.23 114.06L391.61 113.07L392.96 112.09L394.28 111.1L395.58 110.12L396.84 109.13L398.08 108.15L399.3 107.16L400.48 106.18L401.66 105.19L402.83 104.21L403.97 103.22L405.09 102.24L406.18 101.25L407.24 100.27L408.23 99.28L409.19 98.3L410.14 97.31L411.11 96.33L412.12 95.34L413.19 94.36L414.32 93.37L415.49 92.39L416.69 91.4L417.92 90.42L419.17 89.43L420.43 88.45L421.71 87.46L423 86.48L424.32 85.49L425.7 84.51L427.11 83.52L428.55 82.54L430.01 81.55L431.53 80.57L433.11 79.58L434.74 78.6L436.38 77.61L437.97 76.63L439.48 75.64L440.73 74.66L441.83 73.67L442.76 72.69L443.44 71.7L443.93 70.72L444.24 69.73L444.4 68.75L444.48 67.76L444.41 66.96L444.22 66.16L443.89 65.36L443.43 64.57L442.84 63.78L442.12 62.99L441.28 62.22L440.3 61.45L439.21 60.69L437.98 59.95L436.64 59.21L435.18 58.49L433.6 57.78L431.91 57.09L430.1 56.42L428.18 55.76L426.16 55.12L424.03 54.5L421.81 53.9L419.49 53.32L417.07 52.77L414.57 52.23L411.98 51.72L409.31 51.24L406.56 50.78L403.73 50.35L400.84 49.94L397.89 49.57L394.87 49.22L391.8 48.89L388.68 48.6L385.52 48.34L382.31 48.11L379.07 47.9L375.8 47.73L372.5 47.59L369.18 47.48L365.84 47.4L362.5 47.36L359.15 47.34L355.8 47.36L352.46 47.4L349.12 47.48L345.8 47.59L342.5 47.73L339.23 47.9L335.99 48.11L332.78 48.34L329.62 48.6L326.5 48.89L323.43 49.22L320.41 49.57L317.46 49.94L314.57 50.35L311.74 50.78L308.99 51.24L306.32 51.72L303.73 52.23L301.23 52.77L298.81 53.32L296.49 53.9L294.27 54.5L292.14 55.12L290.12 55.76L288.2 56.42L286.39 57.09L284.7 57.78L283.12 58.49L281.66 59.21L280.32 59.95L279.09 60.69L278 61.45L277.02 62.22L276.18 62.99L275.46 63.78L274.87 64.57L274.41 65.36L274.08 66.16L273.89 66.96L273.82 67.76L273.9 68.75L274.06 69.73L274.37 70.72L274.86 71.7L275.54 72.69L276.47 73.67L277.57 74.66L278.82 75.64L280.33 76.63L281.92 77.61L283.56 78.6L285.19 79.58L286.77 80.57L288.29 81.55L289.75 82.54L291.19 83.52L292.6 84.51L293.98 85.49L295.3 86.48L296.59 87.46L297.87 88.45L299.13 89.43L300.38 90.42L301.61 91.4L302.81 92.39L303.98 93.37L305.11 94.36L306.18 95.34L307.19 96.33L308.16 97.31L309.11 98.3L310.07 99.28L311.06 100.27L312.12 101.25L313.21 102.24L314.33 103.22L315.47 104.21L316.64 105.19L317.82 106.18L319 107.16L320.22 108.15L321.46 109.13L322.72 110.12L324.02 111.1L325.34 112.09L326.69 113.07L328.07 114.06L329.47 115.04L330.9 116.03L332.36 117.01L333.89 118L335.5 118.98L337.22 119.97L339.09 120.95L341.19 121.94L343.59 122.92L346.44 123.91L350.16 124.89Z" fill="rgba(222,210,48,0.20)" stroke="#e3a332" stroke-width="1.3"/>
<ellipse cx="359.15" cy="97.32" rx="89.35" ry="28.56" fill="rgba(49,178,73,0.17)" stroke="#5dba74" stroke-width="1.15"/>
<g fill="#c3d0ee"><circle cx="345.7" cy="128.4" r="1.8"/><circle cx="358" cy="128.4" r="1.8"/><circle cx="361.3" cy="128" r="1.8"/><circle cx="367.5" cy="132.4" r="1.8"/><circle cx="356.4" cy="128.7" r="1.8"/><circle cx="350.7" cy="128" r="1.8"/></g>
<g fill="#f3b5a4"><circle cx="341.6" cy="127.2" r="1.8"/></g>
<g fill="#3fae55"><circle cx="319.8" cy="110.7" r="1.8"/><circle cx="329.7" cy="117.7" r="1.8"/><circle cx="331.7" cy="121" r="1.8"/><circle cx="335.8" cy="122.6" r="1.8"/><circle cx="340" cy="124.3" r="1.8"/><circle cx="343.2" cy="125.5" r="1.8"/><circle cx="373.3" cy="124.6" r="1.8"/><circle cx="376.6" cy="122.5" r="1.8"/></g>
<g fill="#c0281c"><circle cx="293.4" cy="47.85" r="1.8"/><circle cx="307.6" cy="68.1" r="1.8"/><circle cx="312.3" cy="85.7" r="1.8"/><circle cx="319.5" cy="85" r="1.8"/><circle cx="325.5" cy="87.3" r="1.8"/><circle cx="325.5" cy="91.7" r="1.8"/><circle cx="328.5" cy="91.7" r="1.8"/><circle cx="318.9" cy="95.7" r="1.8"/><circle cx="323.6" cy="97" r="1.8"/><circle cx="310.7" cy="96.5" r="1.8"/><circle cx="328" cy="102.1" r="1.8"/><circle cx="326.7" cy="103.8" r="1.8"/><circle cx="328.4" cy="105" r="1.8"/><circle cx="330.8" cy="106.2" r="1.8"/><circle cx="327.6" cy="107.8" r="1.8"/><circle cx="325.2" cy="110.3" r="1.8"/><circle cx="329.3" cy="112.7" r="1.8"/><circle cx="335" cy="110.7" r="1.8"/><circle cx="337.9" cy="110.3" r="1.8"/><circle cx="342.8" cy="113.2" r="1.8"/><circle cx="354.6" cy="116.4" r="1.8"/><circle cx="364.2" cy="118.1" r="1.8"/><circle cx="377.6" cy="113.5" r="1.8"/><circle cx="342.9" cy="112.6" r="1.8"/><circle cx="327.2" cy="109.6" r="1.8"/><circle cx="331.5" cy="114.6" r="1.8"/><circle cx="335.6" cy="114.7" r="1.8"/><circle cx="337.3" cy="114.3" r="1.8"/><circle cx="335.1" cy="115.3" r="1.8"/><circle cx="336" cy="115.8" r="1.8"/><circle cx="337.7" cy="115.2" r="1.8"/><circle cx="339.7" cy="115.3" r="1.8"/><circle cx="340.4" cy="115.5" r="1.8"/><circle cx="342.4" cy="115.8" r="1.8"/><circle cx="333.8" cy="117" r="1.8"/><circle cx="335.7" cy="117.2" r="1.8"/><circle cx="337.2" cy="116.7" r="1.8"/><circle cx="338.5" cy="116.9" r="1.8"/><circle cx="339.6" cy="116.5" r="1.8"/><circle cx="341.5" cy="116.6" r="1.8"/><circle cx="343.3" cy="116.7" r="1.8"/><circle cx="344.2" cy="116.6" r="1.8"/><circle cx="345.8" cy="116.7" r="1.8"/><circle cx="334.4" cy="118" r="1.8"/><circle cx="336.2" cy="118.6" r="1.8"/><circle cx="337.4" cy="118.4" r="1.8"/><circle cx="339" cy="118.3" r="1.8"/><circle cx="340.7" cy="118.2" r="1.8"/><circle cx="342.5" cy="118.1" r="1.8"/><circle cx="343.5" cy="117.9" r="1.8"/><circle cx="344.9" cy="118.5" r="1.8"/><circle cx="346.9" cy="118.6" r="1.8"/><circle cx="337.2" cy="119.7" r="1.8"/><circle cx="338.5" cy="119.5" r="1.8"/><circle cx="339.7" cy="119.6" r="1.8"/><circle cx="342" cy="119.8" r="1.8"/><circle cx="342.7" cy="119.5" r="1.8"/><circle cx="344.7" cy="119.3" r="1.8"/><circle cx="346.4" cy="119.5" r="1.8"/><circle cx="347.7" cy="119.4" r="1.8"/><circle cx="349.5" cy="119.8" r="1.8"/><circle cx="350.6" cy="119.2" r="1.8"/><circle cx="353.6" cy="119.9" r="1.8"/><circle cx="338.9" cy="121.1" r="1.8"/><circle cx="341" cy="120.6" r="1.8"/><circle cx="342.5" cy="120.9" r="1.8"/><circle cx="343.5" cy="121.1" r="1.8"/><circle cx="345" cy="120.9" r="1.8"/><circle cx="346.7" cy="120.6" r="1.8"/><circle cx="348.4" cy="120.8" r="1.8"/><circle cx="349.5" cy="121.3" r="1.8"/><circle cx="350.9" cy="120.4" r="1.8"/><circle cx="352.8" cy="121.1" r="1.8"/><circle cx="354.4" cy="121.1" r="1.8"/><circle cx="361.5" cy="121.1" r="1.8"/><circle cx="363.6" cy="120.7" r="1.8"/><circle cx="365" cy="121.1" r="1.8"/><circle cx="340.4" cy="121.8" r="1.8"/><circle cx="341.8" cy="122" r="1.8"/><circle cx="343.2" cy="122.4" r="1.8"/><circle cx="344.7" cy="122" r="1.8"/><circle cx="346.4" cy="121.8" r="1.8"/><circle cx="347.7" cy="122" r="1.8"/><circle cx="349.1" cy="122.5" r="1.8"/><circle cx="350.8" cy="122.3" r="1.8"/><circle cx="351.9" cy="121.9" r="1.8"/><circle cx="353.5" cy="121.9" r="1.8"/><circle cx="354.8" cy="122.5" r="1.8"/><circle cx="356.2" cy="122.4" r="1.8"/><circle cx="359.4" cy="121.8" r="1.8"/><circle cx="361" cy="121.8" r="1.8"/><circle cx="362.5" cy="121.9" r="1.8"/><circle cx="364.4" cy="122.5" r="1.8"/><circle cx="365.5" cy="122.3" r="1.8"/><circle cx="345.5" cy="123.9" r="1.8"/><circle cx="346.6" cy="123.6" r="1.8"/><circle cx="348.5" cy="123.3" r="1.8"/><circle cx="349.7" cy="123.1" r="1.8"/><circle cx="351.7" cy="123.3" r="1.8"/><circle cx="352.8" cy="123.8" r="1.8"/><circle cx="354" cy="123.9" r="1.8"/><circle cx="355.5" cy="123" r="1.8"/><circle cx="357.2" cy="123.3" r="1.8"/><circle cx="359.2" cy="123.8" r="1.8"/><circle cx="360.5" cy="123.4" r="1.8"/><circle cx="361.8" cy="123.2" r="1.8"/><circle cx="363.6" cy="123.3" r="1.8"/><circle cx="364.6" cy="123.6" r="1.8"/><circle cx="366" cy="123.3" r="1.8"/><circle cx="368.2" cy="123.1" r="1.8"/><circle cx="369" cy="123.2" r="1.8"/><circle cx="352.1" cy="124.8" r="1.8"/><circle cx="353.6" cy="125.2" r="1.8"/><circle cx="355.5" cy="125.1" r="1.8"/><circle cx="356.5" cy="124.7" r="1.8"/><circle cx="358.1" cy="124.3" r="1.8"/><circle cx="359.2" cy="125.2" r="1.8"/><circle cx="360.7" cy="125.1" r="1.8"/><circle cx="362.7" cy="125.1" r="1.8"/><circle cx="363.7" cy="124.6" r="1.8"/><circle cx="365.8" cy="124.3" r="1.8"/><circle cx="366.7" cy="124.6" r="1.8"/><circle cx="368.3" cy="124.4" r="1.8"/><circle cx="370.2" cy="124.4" r="1.8"/></g>
</g>
<path d="M299.58 147.3v-2.1M299.58 4.5v2.1M359.15 147.3v-2.1M359.15 4.5v2.1M418.72 147.3v-2.1M418.72 4.5v2.1M269.8 111.6h2.1M448.5 111.6h-2.1M269.8 75.9h2.1M448.5 75.9h-2.1M269.8 40.2h2.1M448.5 40.2h-2.1" stroke="#222" stroke-width="0.8" fill="none"/>
<rect x="269.8" y="4.5" width="178.7" height="142.8" fill="none" stroke="#4c4c4c" stroke-width="1"/>
<text class="tk" transform="translate(264.3 147.9) scale(1 1)" text-anchor="end">0</text>
<text class="tk" transform="translate(264.3 117.1) scale(1 1)" text-anchor="end">5</text>
<text class="tk" transform="translate(262.5 81.6) scale(1 1)" text-anchor="end">10</text>
<text class="tk" transform="translate(262.5 46.2) scale(1 1)" text-anchor="end">15</text>
<text class="tk" transform="translate(262.5 9.8) scale(1 1)" text-anchor="end">20</text>
<text class="tk" transform="translate(298.68 159.7) scale(0.99 1)" text-anchor="middle">-2</text>
<text class="tk" transform="translate(358.45 159.7) scale(0.99 1)" text-anchor="middle">0</text>
<text class="tk" transform="translate(418.02 159.7) scale(0.99 1)" text-anchor="middle">2</text>
<text class="lb" transform="translate(361.15 172.6) scale(1.05 1)" text-anchor="middle">Skewness <tspan class="gm" dy="-2.2">γ</tspan><tspan class="sub" dy="6.3">3</tspan></text>
<text class="lb" transform="translate(245.6 73.8) rotate(-90) scale(1.05 1)" text-anchor="middle">Kurtosis <tspan class="gm" dy="-3.6">γ</tspan><tspan class="sub" dy="4.9">4</tspan></text>
<text class="cap" transform="translate(358.15 188.4) scale(1.04 1)" text-anchor="middle">(b) Model-1</text>
<clipPath id="clip_c"><rect x="504.6" y="4.5" width="179" height="142.8"/></clipPath>
<rect x="504.6" y="4.5" width="179" height="142.8" fill="#fff"/>
<g clip-path="url(#clip_c)">
<rect x="502.6" y="122.67" width="183" height="5.85" fill="rgba(215,163,131,0.25)"/>
<path d="M504.6 122.67H683.6M504.6 128.52H683.6" stroke="#efbba9" stroke-width="0.9" fill="none"/>
<path d="M505.79 150.51C506.16 149.98 507.18 148.34 508 147.3C508.83 146.26 509.25 145.52 510.75 144.3C512.24 143.09 514.37 141.37 516.95 140.02C519.54 138.66 523.35 137.26 526.26 136.16C529.17 135.06 531.86 134.22 534.43 133.4C537.01 132.58 538.53 132.06 541.71 131.25C544.89 130.44 549.37 129.26 553.53 128.52C557.68 127.78 562.38 127.21 566.65 126.81C570.93 126.41 574.61 126.28 579.18 126.13C583.76 125.98 589.13 125.88 594.1 125.88C599.07 125.88 604.44 125.98 609.02 126.13C613.59 126.28 617.27 126.41 621.55 126.81C625.82 127.21 630.52 127.78 634.67 128.52C638.83 129.26 643.31 130.44 646.49 131.25C649.67 132.06 651.19 132.58 653.77 133.4C656.34 134.22 659.03 135.06 661.94 136.16C664.85 137.26 668.66 138.66 671.25 140.02C673.83 141.37 675.96 143.09 677.45 144.3C678.95 145.52 679.37 146.26 680.2 147.3C681.02 148.34 682.04 149.98 682.41 150.51V152.3H505.79Z" fill="#fff"/>
<ellipse cx="594.1" cy="97.32" rx="89.5" ry="28.56" fill="#fff"/>
<path d="M534.43 4.5V147.3M594.1 4.5V147.3M653.77 4.5V147.3M504.6 111.6H683.6M504.6 75.9H683.6M504.6 40.2H683.6" stroke="#000" stroke-opacity="0.10" stroke-width="0.6" fill="none"/>
<path d="M505.79 150.51C506.16 149.98 507.18 148.34 508 147.3C508.83 146.26 509.25 145.52 510.75 144.3C512.24 143.09 514.37 141.37 516.95 140.02C519.54 138.66 523.35 137.26 526.26 136.16C529.17 135.06 531.86 134.22 534.43 133.4C537.01 132.58 538.53 132.06 541.71 131.25C544.89 130.44 549.37 129.26 553.53 128.52C557.68 127.78 562.38 127.21 566.65 126.81C570.93 126.41 574.61 126.28 579.18 126.13C583.76 125.98 589.13 125.88 594.1 125.88C599.07 125.88 604.44 125.98 609.02 126.13C613.59 126.28 617.27 126.41 621.55 126.81C625.82 127.21 630.52 127.78 634.67 128.52C638.83 129.26 643.31 130.44 646.49 131.25C649.67 132.06 651.19 132.58 653.77 133.4C656.34 134.22 659.03 135.06 661.94 136.16C664.85 137.26 668.66 138.66 671.25 140.02C673.83 141.37 675.96 143.09 677.45 144.3C678.95 145.52 679.37 146.26 680.2 147.3C681.02 148.34 682.04 149.98 682.41 150.51V152.3H505.79Z" fill="rgba(150,205,240,0.13)"/>
<path d="M505.79 150.51C506.16 149.98 507.18 148.34 508 147.3C508.83 146.26 509.25 145.52 510.75 144.3C512.24 143.09 514.37 141.37 516.95 140.02C519.54 138.66 523.35 137.26 526.26 136.16C529.17 135.06 531.86 134.22 534.43 133.4C537.01 132.58 538.53 132.06 541.71 131.25C544.89 130.44 549.37 129.26 553.53 128.52C557.68 127.78 562.38 127.21 566.65 126.81C570.93 126.41 574.61 126.28 579.18 126.13C583.76 125.98 589.13 125.88 594.1 125.88C599.07 125.88 604.44 125.98 609.02 126.13C613.59 126.28 617.27 126.41 621.55 126.81C625.82 127.21 630.52 127.78 634.67 128.52C638.83 129.26 643.31 130.44 646.49 131.25C649.67 132.06 651.19 132.58 653.77 133.4C656.34 134.22 659.03 135.06 661.94 136.16C664.85 137.26 668.66 138.66 671.25 140.02C673.83 141.37 675.96 143.09 677.45 144.3C678.95 145.52 679.37 146.26 680.2 147.3C681.02 148.34 682.04 149.98 682.41 150.51" fill="none" stroke="#b0c5ea" stroke-width="1.2" stroke-linejoin="round"/>
<path d="M498.63 35.03L500.12 37.15L501.62 39.28L503.11 41.42L504.6 43.56L506.09 45.71L507.58 47.86L509.08 50.01L510.57 52.16L512.06 54.3L513.55 56.44L515.04 58.58L516.53 60.7L518.02 62.81L519.52 64.91L521.01 67L522.5 69.07L523.99 71.12L525.48 73.15L526.98 75.16L528.47 77.16L529.96 79.12L531.45 81.06L532.94 82.98L534.43 84.87L535.93 86.73L537.42 88.55L538.91 90.35L540.4 92.12L541.89 93.84L543.38 95.54L544.88 97.2L546.37 98.82L547.86 100.4L549.35 101.94L550.84 103.44L552.33 104.9L553.83 106.32L555.32 107.69L556.81 109.02L558.3 110.3L559.79 111.54L561.28 112.73L562.77 113.87L564.27 114.96L565.76 116.01L567.25 117L568.74 117.95L570.23 118.84L571.73 119.68L573.22 120.48L574.71 121.21L576.2 121.9L577.69 122.53L579.18 123.11L580.67 123.63L582.17 124.1L583.66 124.52L585.15 124.88L586.64 125.18L588.13 125.43L589.62 125.63L591.12 125.77L592.61 125.85L594.1 125.88L595.59 125.85L597.08 125.77L598.58 125.63L600.07 125.43L601.56 125.18L603.05 124.88L604.54 124.52L606.03 124.1L607.52 123.63L609.02 123.11L610.51 122.53L612 121.9L613.49 121.21L614.98 120.48L616.48 119.68L617.97 118.84L619.46 117.95L620.95 117L622.44 116.01L623.93 114.96L625.42 113.87L626.92 112.73L628.41 111.54L629.9 110.3L631.39 109.02L632.88 107.69L634.38 106.32L635.87 104.9L637.36 103.44L638.85 101.94L640.34 100.4L641.83 98.82L643.33 97.2L644.82 95.54L646.31 93.84L647.8 92.12L649.29 90.35L650.78 88.55L652.28 86.73L653.77 84.87L655.26 82.98L656.75 81.06L658.24 79.12L659.73 77.16L661.23 75.16L662.72 73.15L664.21 71.12L665.7 69.07L667.19 67L668.68 64.91L670.17 62.81L671.67 60.7L673.16 58.58L674.65 56.44L676.14 54.3L677.63 52.16L679.12 50.01L680.62 47.86L682.11 45.71L683.6 43.56L685.09 41.42L686.58 39.28L688.08 37.15L689.57 35.03V-0.5H498.63Z" fill="rgba(23,190,207,0.18)"/>
<path d="M498.63 8.9L500.12 12.53L501.62 16.1L503.11 19.61L504.6 23.06L506.09 26.46L507.58 29.8L509.08 33.09L510.57 36.32L512.06 39.49L513.55 42.6L515.04 45.65L516.53 48.65L518.02 51.6L519.52 54.48L521.01 57.31L522.5 60.08L523.99 62.79L525.48 65.45L526.98 68.05L528.47 70.59L529.96 73.07L531.45 75.5L532.94 77.87L534.43 80.18L535.93 82.44L537.42 84.64L538.91 86.78L540.4 88.87L541.89 90.89L543.38 92.86L544.88 94.78L546.37 96.63L547.86 98.43L549.35 100.18L550.84 101.86L552.33 103.49L553.83 105.06L555.32 106.57L556.81 108.03L558.3 109.43L559.79 110.77L561.28 112.06L562.77 113.29L564.27 114.46L565.76 115.57L567.25 116.63L568.74 117.63L570.23 118.57L571.73 119.45L573.22 120.28L574.71 121.05L576.2 121.77L577.69 122.42L579.18 123.02L580.67 123.57L582.17 124.05L583.66 124.48L585.15 124.85L586.64 125.17L588.13 125.42L589.62 125.62L591.12 125.77L592.61 125.85L594.1 125.88L595.59 125.85L597.08 125.77L598.58 125.62L600.07 125.42L601.56 125.17L603.05 124.85L604.54 124.48L606.03 124.05L607.52 123.57L609.02 123.02L610.51 122.42L612 121.77L613.49 121.05L614.98 120.28L616.48 119.45L617.97 118.57L619.46 117.63L620.95 116.63L622.44 115.57L623.93 114.46L625.42 113.29L626.92 112.06L628.41 110.77L629.9 109.43L631.39 108.03L632.88 106.57L634.38 105.06L635.87 103.49L637.36 101.86L638.85 100.18L640.34 98.43L641.83 96.63L643.33 94.78L644.82 92.86L646.31 90.89L647.8 88.87L649.29 86.78L650.78 84.64L652.28 82.44L653.77 80.18L655.26 77.87L656.75 75.5L658.24 73.07L659.73 70.59L661.23 68.05L662.72 65.45L664.21 62.79L665.7 60.08L667.19 57.31L668.68 54.48L670.17 51.6L671.67 48.65L673.16 45.65L674.65 42.6L676.14 39.49L677.63 36.32L679.12 33.09L680.62 29.8L682.11 26.46L683.6 23.06L685.09 19.61L686.58 16.1L688.08 12.53L689.57 8.9V-0.5H498.63Z" fill="rgba(244,82,24,0.205)"/>
<path d="M498.63 8.9L500.12 12.53L501.62 16.1L503.11 19.61L504.6 23.06L506.09 26.46L507.58 29.8L509.08 33.09L510.57 36.32L512.06 39.49L513.55 42.6L515.04 45.65L516.53 48.65L518.02 51.6L519.52 54.48L521.01 57.31L522.5 60.08L523.99 62.79L525.48 65.45L526.98 68.05L528.47 70.59L529.96 73.07L531.45 75.5L532.94 77.87L534.43 80.18L535.93 82.44L537.42 84.64L538.91 86.78L540.4 88.87L541.89 90.89L543.38 92.86L544.88 94.78L546.37 96.63L547.86 98.43L549.35 100.18L550.84 101.86L552.33 103.49L553.83 105.06L555.32 106.57L556.81 108.03L558.3 109.43L559.79 110.77L561.28 112.06L562.77 113.29L564.27 114.46L565.76 115.57L567.25 116.63L568.74 117.63L570.23 118.57L571.73 119.45L573.22 120.28L574.71 121.05L576.2 121.77L577.69 122.42L579.18 123.02L580.67 123.57L582.17 124.05L583.66 124.48L585.15 124.85L586.64 125.17L588.13 125.42L589.62 125.62L591.12 125.77L592.61 125.85L594.1 125.88L595.59 125.85L597.08 125.77L598.58 125.62L600.07 125.42L601.56 125.17L603.05 124.85L604.54 124.48L606.03 124.05L607.52 123.57L609.02 123.02L610.51 122.42L612 121.77L613.49 121.05L614.98 120.28L616.48 119.45L617.97 118.57L619.46 117.63L620.95 116.63L622.44 115.57L623.93 114.46L625.42 113.29L626.92 112.06L628.41 110.77L629.9 109.43L631.39 108.03L632.88 106.57L634.38 105.06L635.87 103.49L637.36 101.86L638.85 100.18L640.34 98.43L641.83 96.63L643.33 94.78L644.82 92.86L646.31 90.89L647.8 88.87L649.29 86.78L650.78 84.64L652.28 82.44L653.77 80.18L655.26 77.87L656.75 75.5L658.24 73.07L659.73 70.59L661.23 68.05L662.72 65.45L664.21 62.79L665.7 60.08L667.19 57.31L668.68 54.48L670.17 51.6L671.67 48.65L673.16 45.65L674.65 42.6L676.14 39.49L677.63 36.32L679.12 33.09L680.62 29.8L682.11 26.46L683.6 23.06L685.09 19.61L686.58 16.1L688.08 12.53L689.57 8.9" fill="none" stroke="#c4323a" stroke-width="1.15"/>
<path d="M498.63 35.03L500.12 37.15L501.62 39.28L503.11 41.42L504.6 43.56L506.09 45.71L507.58 47.86L509.08 50.01L510.57 52.16L512.06 54.3L513.55 56.44L515.04 58.58L516.53 60.7L518.02 62.81L519.52 64.91L521.01 67L522.5 69.07L523.99 71.12L525.48 73.15L526.98 75.16L528.47 77.16L529.96 79.12L531.45 81.06L532.94 82.98L534.43 84.87L535.93 86.73L537.42 88.55L538.91 90.35L540.4 92.12L541.89 93.84L543.38 95.54L544.88 97.2L546.37 98.82L547.86 100.4L549.35 101.94L550.84 103.44L552.33 104.9L553.83 106.32L555.32 107.69L556.81 109.02L558.3 110.3L559.79 111.54L561.28 112.73L562.77 113.87L564.27 114.96L565.76 116.01L567.25 117L568.74 117.95L570.23 118.84L571.73 119.68L573.22 120.48L574.71 121.21L576.2 121.9L577.69 122.53L579.18 123.11L580.67 123.63L582.17 124.1L583.66 124.52L585.15 124.88L586.64 125.18L588.13 125.43L589.62 125.63L591.12 125.77L592.61 125.85L594.1 125.88L595.59 125.85L597.08 125.77L598.58 125.63L600.07 125.43L601.56 125.18L603.05 124.88L604.54 124.52L606.03 124.1L607.52 123.63L609.02 123.11L610.51 122.53L612 121.9L613.49 121.21L614.98 120.48L616.48 119.68L617.97 118.84L619.46 117.95L620.95 117L622.44 116.01L623.93 114.96L625.42 113.87L626.92 112.73L628.41 111.54L629.9 110.3L631.39 109.02L632.88 107.69L634.38 106.32L635.87 104.9L637.36 103.44L638.85 101.94L640.34 100.4L641.83 98.82L643.33 97.2L644.82 95.54L646.31 93.84L647.8 92.12L649.29 90.35L650.78 88.55L652.28 86.73L653.77 84.87L655.26 82.98L656.75 81.06L658.24 79.12L659.73 77.16L661.23 75.16L662.72 73.15L664.21 71.12L665.7 69.07L667.19 67L668.68 64.91L670.17 62.81L671.67 60.7L673.16 58.58L674.65 56.44L676.14 54.3L677.63 52.16L679.12 50.01L680.62 47.86L682.11 45.71L683.6 43.56L685.09 41.42L686.58 39.28L688.08 37.15L689.57 35.03" fill="none" stroke="#3574b8" stroke-width="1.15"/>
<path d="M594.1 125.88L603.1 124.89L606.83 123.91L609.69 122.92L612.09 121.94L614.19 120.95L616.07 119.97L617.79 118.98L619.4 118L620.93 117.01L622.4 116.03L623.83 115.04L625.23 114.06L626.61 113.07L627.96 112.09L629.29 111.1L630.59 110.12L631.86 109.13L633.1 108.15L634.31 107.16L635.5 106.18L636.68 105.19L637.85 104.21L639 103.22L640.12 102.24L641.21 101.25L642.27 100.27L643.27 99.28L644.23 98.3L645.18 97.31L646.15 96.33L647.16 95.34L648.24 94.36L649.36 93.37L650.53 92.39L651.74 91.4L652.97 90.42L654.22 89.43L655.49 88.45L656.77 87.46L658.06 86.48L659.38 85.49L660.76 84.51L662.17 83.52L663.62 82.54L665.08 81.55L666.6 80.57L668.18 79.58L669.82 78.6L671.45 77.61L673.05 76.63L674.57 75.64L675.82 74.66L676.92 73.67L677.85 72.69L678.53 71.7L679.02 70.72L679.33 69.73L679.5 68.75L679.57 67.76L679.51 66.96L679.31 66.16L678.98 65.36L678.52 64.57L677.93 63.78L677.21 62.99L676.36 62.22L675.39 61.45L674.29 60.69L673.07 59.95L671.72 59.21L670.26 58.49L668.67 57.78L666.98 57.09L665.17 56.42L663.25 55.76L661.22 55.12L659.09 54.5L656.86 53.9L654.54 53.32L652.12 52.77L649.61 52.23L647.02 51.72L644.34 51.24L641.59 50.78L638.76 50.35L635.86 49.94L632.9 49.57L629.88 49.22L626.81 48.89L623.68 48.6L620.51 48.34L617.3 48.11L614.05 47.9L610.77 47.73L607.47 47.59L604.15 47.48L600.81 47.4L597.46 47.36L594.1 47.34L590.74 47.36L587.39 47.4L584.05 47.48L580.73 47.59L577.43 47.73L574.15 47.9L570.9 48.11L567.69 48.34L564.52 48.6L561.39 48.89L558.32 49.22L555.3 49.57L552.34 49.94L549.44 50.35L546.61 50.78L543.86 51.24L541.18 51.72L538.59 52.23L536.08 52.77L533.66 53.32L531.34 53.9L529.11 54.5L526.98 55.12L524.95 55.76L523.03 56.42L521.22 57.09L519.53 57.78L517.94 58.49L516.48 59.21L515.13 59.95L513.91 60.69L512.81 61.45L511.84 62.22L510.99 62.99L510.27 63.78L509.68 64.57L509.22 65.36L508.89 66.16L508.69 66.96L508.63 67.76L508.7 68.75L508.87 69.73L509.18 70.72L509.67 71.7L510.35 72.69L511.28 73.67L512.38 74.66L513.63 75.64L515.15 76.63L516.75 77.61L518.38 78.6L520.02 79.58L521.6 80.57L523.12 81.55L524.58 82.54L526.03 83.52L527.44 84.51L528.82 85.49L530.14 86.48L531.43 87.46L532.71 88.45L533.98 89.43L535.23 90.42L536.46 91.4L537.67 92.39L538.84 93.37L539.96 94.36L541.04 95.34L542.05 96.33L543.02 97.31L543.97 98.3L544.93 99.28L545.93 100.27L546.99 101.25L548.08 102.24L549.2 103.22L550.35 104.21L551.52 105.19L552.7 106.18L553.89 107.16L555.1 108.15L556.34 109.13L557.61 110.12L558.91 111.1L560.24 112.09L561.59 113.07L562.97 114.06L564.37 115.04L565.8 116.03L567.27 117.01L568.8 118L570.41 118.98L572.13 119.97L574.01 120.95L576.11 121.94L578.51 122.92L581.37 123.91L585.1 124.89Z" fill="rgba(222,210,48,0.20)" stroke="#e3a332" stroke-width="1.3"/>
<ellipse cx="594.1" cy="97.32" rx="89.5" ry="28.56" fill="rgba(49,178,73,0.17)" stroke="#5dba74" stroke-width="1.15"/>
<g fill="#c3d0ee"><circle cx="591.1" cy="128.9" r="1.8"/><circle cx="588" cy="127.9" r="1.8"/><circle cx="596.2" cy="127.7" r="1.8"/><circle cx="582.9" cy="127.1" r="1.8"/><circle cx="603.75" cy="131.8" r="1.8"/></g>
<g fill="#3fae55"><circle cx="559.2" cy="112.3" r="1.8"/><circle cx="566.1" cy="117.4" r="1.8"/><circle cx="568.5" cy="120.7" r="1.8"/><circle cx="567" cy="122.7" r="1.8"/><circle cx="572.6" cy="123.8" r="1.8"/><circle cx="575.7" cy="124.8" r="1.8"/><circle cx="604.5" cy="125" r="1.8"/><circle cx="578.8" cy="125.8" r="1.8"/></g>
<g fill="#c0281c"><circle cx="539.05" cy="68.9" r="1.8"/><circle cx="569.7" cy="102.9" r="1.8"/><circle cx="561.5" cy="105.6" r="1.8"/><circle cx="562.5" cy="108.9" r="1.8"/><circle cx="607.8" cy="103.7" r="1.8"/><circle cx="598.7" cy="109.4" r="1.8"/><circle cx="608.6" cy="114.5" r="1.8"/><circle cx="608.3" cy="120.5" r="1.8"/><circle cx="590.6" cy="113.2" r="1.8"/><circle cx="587.4" cy="115.6" r="1.8"/><circle cx="573.9" cy="111.8" r="1.8"/><circle cx="568.5" cy="110.9" r="1.8"/><circle cx="566.4" cy="111.4" r="1.8"/><circle cx="564.4" cy="113.5" r="1.8"/><circle cx="576.2" cy="114" r="1.8"/><circle cx="581.9" cy="115" r="1.8"/><circle cx="570.6" cy="116.6" r="1.8"/><circle cx="565.9" cy="112.1" r="1.8"/><circle cx="568.2" cy="115.6" r="1.8"/><circle cx="571.7" cy="116.7" r="1.8"/><circle cx="575.1" cy="114.4" r="1.8"/><circle cx="569.8" cy="112.8" r="1.8"/><circle cx="567.2" cy="113.8" r="1.8"/><circle cx="572.8" cy="118.2" r="1.8"/><circle cx="575.2" cy="115.2" r="1.8"/><circle cx="576.7" cy="114.9" r="1.8"/><circle cx="572.7" cy="116.2" r="1.8"/><circle cx="574.5" cy="116.1" r="1.8"/><circle cx="575.5" cy="116.3" r="1.8"/><circle cx="576.9" cy="115.9" r="1.8"/><circle cx="579" cy="116.1" r="1.8"/><circle cx="580.1" cy="115.7" r="1.8"/><circle cx="581.5" cy="116.2" r="1.8"/><circle cx="582.7" cy="116.2" r="1.8"/><circle cx="572" cy="117.1" r="1.8"/><circle cx="573.2" cy="117.3" r="1.8"/><circle cx="575.2" cy="117.4" r="1.8"/><circle cx="576.7" cy="117.1" r="1.8"/><circle cx="577.7" cy="117.6" r="1.8"/><circle cx="579.7" cy="117.4" r="1.8"/><circle cx="580.6" cy="117.1" r="1.8"/><circle cx="582.4" cy="117.1" r="1.8"/><circle cx="584.1" cy="117.7" r="1.8"/><circle cx="585.1" cy="117.2" r="1.8"/><circle cx="587.1" cy="117.5" r="1.8"/><circle cx="572.7" cy="118.5" r="1.8"/><circle cx="574.4" cy="118.3" r="1.8"/><circle cx="576" cy="118.9" r="1.8"/><circle cx="577.5" cy="119.1" r="1.8"/><circle cx="579" cy="118.8" r="1.8"/><circle cx="579.7" cy="118.9" r="1.8"/><circle cx="581.3" cy="118.5" r="1.8"/><circle cx="583.2" cy="118.7" r="1.8"/><circle cx="584.5" cy="119.1" r="1.8"/><circle cx="586.2" cy="118.6" r="1.8"/><circle cx="587.4" cy="119" r="1.8"/><circle cx="589.1" cy="119" r="1.8"/><circle cx="590.5" cy="118.4" r="1.8"/><circle cx="592.1" cy="119" r="1.8"/><circle cx="573" cy="120" r="1.8"/><circle cx="574.7" cy="119.9" r="1.8"/><circle cx="576.2" cy="120.2" r="1.8"/><circle cx="577.9" cy="119.9" r="1.8"/><circle cx="579.1" cy="119.9" r="1.8"/><circle cx="580.5" cy="120.1" r="1.8"/><circle cx="582.5" cy="119.9" r="1.8"/><circle cx="583.5" cy="119.7" r="1.8"/><circle cx="585.2" cy="120.1" r="1.8"/><circle cx="587.1" cy="119.9" r="1.8"/><circle cx="588.6" cy="120.1" r="1.8"/><circle cx="589.8" cy="119.9" r="1.8"/><circle cx="591.3" cy="120.2" r="1.8"/><circle cx="592.8" cy="120.2" r="1.8"/><circle cx="575.2" cy="121" r="1.8"/><circle cx="577.3" cy="120.9" r="1.8"/><circle cx="578.2" cy="121" r="1.8"/><circle cx="580.4" cy="121" r="1.8"/><circle cx="581.2" cy="121.6" r="1.8"/><circle cx="582.8" cy="121.6" r="1.8"/><circle cx="584.8" cy="121.6" r="1.8"/><circle cx="586.5" cy="121.4" r="1.8"/><circle cx="587.9" cy="120.9" r="1.8"/><circle cx="589.3" cy="121.3" r="1.8"/><circle cx="590.8" cy="121" r="1.8"/><circle cx="592.3" cy="121.7" r="1.8"/><circle cx="593.2" cy="121.2" r="1.8"/><circle cx="595.2" cy="121.6" r="1.8"/><circle cx="596.4" cy="121" r="1.8"/><circle cx="597.9" cy="121.4" r="1.8"/><circle cx="599.8" cy="121.2" r="1.8"/><circle cx="601" cy="121.2" r="1.8"/><circle cx="602.5" cy="121.3" r="1.8"/><circle cx="576.7" cy="122.3" r="1.8"/><circle cx="579.7" cy="122.7" r="1.8"/><circle cx="580.8" cy="122.8" r="1.8"/><circle cx="582.1" cy="122.4" r="1.8"/><circle cx="583.6" cy="122.7" r="1.8"/><circle cx="585.2" cy="122.4" r="1.8"/><circle cx="587" cy="123" r="1.8"/><circle cx="588.2" cy="122.8" r="1.8"/><circle cx="589.8" cy="123" r="1.8"/><circle cx="591.4" cy="122.4" r="1.8"/><circle cx="592.6" cy="122.2" r="1.8"/><circle cx="594.3" cy="122.5" r="1.8"/><circle cx="595.6" cy="122.5" r="1.8"/><circle cx="597.2" cy="122.9" r="1.8"/><circle cx="598.5" cy="123.1" r="1.8"/><circle cx="600.3" cy="122.7" r="1.8"/><circle cx="601.8" cy="122.9" r="1.8"/><circle cx="603.6" cy="122.7" r="1.8"/><circle cx="581.9" cy="124.3" r="1.8"/><circle cx="582.9" cy="124.3" r="1.8"/><circle cx="584.4" cy="123.9" r="1.8"/><circle cx="586.3" cy="123.6" r="1.8"/><circle cx="587.2" cy="124.2" r="1.8"/><circle cx="588.9" cy="123.8" r="1.8"/><circle cx="590.7" cy="124.1" r="1.8"/><circle cx="591.7" cy="123.8" r="1.8"/><circle cx="593.5" cy="123.9" r="1.8"/><circle cx="594.8" cy="124" r="1.8"/><circle cx="597" cy="123.8" r="1.8"/><circle cx="598.1" cy="123.6" r="1.8"/><circle cx="599.4" cy="124.1" r="1.8"/><circle cx="600.8" cy="124.3" r="1.8"/><circle cx="603" cy="123.6" r="1.8"/><circle cx="585.5" cy="124.9" r="1.8"/><circle cx="587.2" cy="124.9" r="1.8"/><circle cx="588.2" cy="125.4" r="1.8"/><circle cx="589.9" cy="125.3" r="1.8"/><circle cx="591.5" cy="125.2" r="1.8"/><circle cx="592.7" cy="125" r="1.8"/><circle cx="594" cy="125.4" r="1.8"/><circle cx="596.1" cy="125.3" r="1.8"/></g>
</g>
<path d="M534.43 147.3v-2.1M534.43 4.5v2.1M594.1 147.3v-2.1M594.1 4.5v2.1M653.77 147.3v-2.1M653.77 4.5v2.1M504.6 111.6h2.1M683.6 111.6h-2.1M504.6 75.9h2.1M683.6 75.9h-2.1M504.6 40.2h2.1M683.6 40.2h-2.1" stroke="#222" stroke-width="0.8" fill="none"/>
<rect x="504.6" y="4.5" width="179" height="142.8" fill="none" stroke="#4c4c4c" stroke-width="1"/>
<text class="tk" transform="translate(499.1 147.9) scale(1 1)" text-anchor="end">0</text>
<text class="tk" transform="translate(499.1 117.1) scale(1 1)" text-anchor="end">5</text>
<text class="tk" transform="translate(497.3 81.6) scale(1 1)" text-anchor="end">10</text>
<text class="tk" transform="translate(497.3 46.2) scale(1 1)" text-anchor="end">15</text>
<text class="tk" transform="translate(497.3 9.8) scale(1 1)" text-anchor="end">20</text>
<text class="tk" transform="translate(533.53 159.7) scale(0.99 1)" text-anchor="middle">-2</text>
<text class="tk" transform="translate(593.4 159.7) scale(0.99 1)" text-anchor="middle">0</text>
<text class="tk" transform="translate(653.07 159.7) scale(0.99 1)" text-anchor="middle">2</text>
<text class="lb" transform="translate(596.1 172.6) scale(1.05 1)" text-anchor="middle">Skewness <tspan class="gm" dy="-2.2">γ</tspan><tspan class="sub" dy="6.3">3</tspan></text>
<text class="lb" transform="translate(480.4 73.8) rotate(-90) scale(1.05 1)" text-anchor="middle">Kurtosis <tspan class="gm" dy="-3.6">γ</tspan><tspan class="sub" dy="4.9">4</tspan></text>
<text class="cap" transform="translate(593.1 188.4) scale(1.04 1)" text-anchor="middle">(c) Model-2</text>
<clipPath id="clip_d"><rect x="34.5" y="203.3" width="178.5" height="142.45"/></clipPath>
<rect x="34.5" y="203.3" width="178.5" height="142.45" fill="#fff"/>
<g clip-path="url(#clip_d)">
<rect x="32.5" y="321.18" width="182.5" height="5.84" fill="rgba(215,163,131,0.25)"/>
<path d="M34.5 321.18H213M34.5 327.02H213" stroke="#efbba9" stroke-width="0.9" fill="none"/>
<path d="M35.69 348.96C36.06 348.42 37.07 346.78 37.89 345.75C38.71 344.72 39.14 343.97 40.63 342.76C42.12 341.55 44.24 339.84 46.82 338.49C49.39 337.13 53.19 335.74 56.1 334.64C59 333.54 61.68 332.7 64.25 331.88C66.82 331.07 68.34 330.55 71.51 329.74C74.68 328.93 79.14 327.76 83.29 327.02C87.44 326.28 92.12 325.71 96.38 325.31C100.64 324.91 104.31 324.79 108.88 324.63C113.44 324.48 118.79 324.38 123.75 324.38C128.71 324.38 134.06 324.48 138.62 324.63C143.19 324.79 146.86 324.91 151.12 325.31C155.38 325.71 160.06 326.28 164.21 327.02C168.36 327.76 172.82 328.93 175.99 329.74C179.16 330.55 180.68 331.07 183.25 331.88C185.82 332.7 188.5 333.54 191.4 334.64C194.31 335.74 198.11 337.13 200.68 338.49C203.26 339.84 205.38 341.55 206.87 342.76C208.36 343.97 208.79 344.72 209.61 345.75C210.43 346.78 211.44 348.42 211.81 348.96V350.75H35.69Z" fill="#fff"/>
<ellipse cx="123.75" cy="295.89" rx="89.25" ry="28.49" fill="#fff"/>
<path d="M64.25 203.3V345.75M123.75 203.3V345.75M183.25 203.3V345.75M34.5 310.14H213M34.5 274.52H213M34.5 238.91H213" stroke="#000" stroke-opacity="0.10" stroke-width="0.6" fill="none"/>
<path d="M35.69 348.96C36.06 348.42 37.07 346.78 37.89 345.75C38.71 344.72 39.14 343.97 40.63 342.76C42.12 341.55 44.24 339.84 46.82 338.49C49.39 337.13 53.19 335.74 56.1 334.64C59 333.54 61.68 332.7 64.25 331.88C66.82 331.07 68.34 330.55 71.51 329.74C74.68 328.93 79.14 327.76 83.29 327.02C87.44 326.28 92.12 325.71 96.38 325.31C100.64 324.91 104.31 324.79 108.88 324.63C113.44 324.48 118.79 324.38 123.75 324.38C128.71 324.38 134.06 324.48 138.62 324.63C143.19 324.79 146.86 324.91 151.12 325.31C155.38 325.71 160.06 326.28 164.21 327.02C168.36 327.76 172.82 328.93 175.99 329.74C179.16 330.55 180.68 331.07 183.25 331.88C185.82 332.7 188.5 333.54 191.4 334.64C194.31 335.74 198.11 337.13 200.68 338.49C203.26 339.84 205.38 341.55 206.87 342.76C208.36 343.97 208.79 344.72 209.61 345.75C210.43 346.78 211.44 348.42 211.81 348.96V350.75H35.69Z" fill="rgba(150,205,240,0.13)"/>
<path d="M35.69 348.96C36.06 348.42 37.07 346.78 37.89 345.75C38.71 344.72 39.14 343.97 40.63 342.76C42.12 341.55 44.24 339.84 46.82 338.49C49.39 337.13 53.19 335.74 56.1 334.64C59 333.54 61.68 332.7 64.25 331.88C66.82 331.07 68.34 330.55 71.51 329.74C74.68 328.93 79.14 327.76 83.29 327.02C87.44 326.28 92.12 325.71 96.38 325.31C100.64 324.91 104.31 324.79 108.88 324.63C113.44 324.48 118.79 324.38 123.75 324.38C128.71 324.38 134.06 324.48 138.62 324.63C143.19 324.79 146.86 324.91 151.12 325.31C155.38 325.71 160.06 326.28 164.21 327.02C168.36 327.76 172.82 328.93 175.99 329.74C179.16 330.55 180.68 331.07 183.25 331.88C185.82 332.7 188.5 333.54 191.4 334.64C194.31 335.74 198.11 337.13 200.68 338.49C203.26 339.84 205.38 341.55 206.87 342.76C208.36 343.97 208.79 344.72 209.61 345.75C210.43 346.78 211.44 348.42 211.81 348.96" fill="none" stroke="#b0c5ea" stroke-width="1.2" stroke-linejoin="round"/>
<path d="M28.55 233.76L30.04 235.87L31.52 238L33.01 240.13L34.5 242.27L35.99 244.41L37.48 246.55L38.96 248.7L40.45 250.84L41.94 252.98L43.42 255.12L44.91 257.24L46.4 259.36L47.89 261.47L49.38 263.56L50.86 265.64L52.35 267.71L53.84 269.76L55.33 271.78L56.81 273.79L58.3 275.78L59.79 277.74L61.27 279.68L62.76 281.59L64.25 283.47L65.74 285.33L67.22 287.15L68.71 288.94L70.2 290.7L71.69 292.43L73.18 294.12L74.66 295.77L76.15 297.39L77.64 298.96L79.12 300.5L80.61 302L82.1 303.45L83.59 304.87L85.07 306.24L86.56 307.56L88.05 308.84L89.54 310.07L91.03 311.26L92.51 312.4L94 313.49L95.49 314.53L96.97 315.53L98.46 316.47L99.95 317.36L101.44 318.2L102.92 318.99L104.41 319.73L105.9 320.41L107.39 321.04L108.88 321.62L110.36 322.14L111.85 322.61L113.34 323.02L114.83 323.38L116.31 323.69L117.8 323.94L119.29 324.13L120.77 324.27L122.26 324.35L123.75 324.38L125.24 324.35L126.73 324.27L128.21 324.13L129.7 323.94L131.19 323.69L132.68 323.38L134.16 323.02L135.65 322.61L137.14 322.14L138.62 321.62L140.11 321.04L141.6 320.41L143.09 319.73L144.57 318.99L146.06 318.2L147.55 317.36L149.04 316.47L150.52 315.53L152.01 314.53L153.5 313.49L154.99 312.4L156.47 311.26L157.96 310.07L159.45 308.84L160.94 307.56L162.43 306.24L163.91 304.87L165.4 303.45L166.89 302L168.38 300.5L169.86 298.96L171.35 297.39L172.84 295.77L174.33 294.12L175.81 292.43L177.3 290.7L178.79 288.94L180.28 287.15L181.76 285.33L183.25 283.47L184.74 281.59L186.22 279.68L187.71 277.74L189.2 275.78L190.69 273.79L192.17 271.78L193.66 269.76L195.15 267.71L196.64 265.64L198.12 263.56L199.61 261.47L201.1 259.36L202.59 257.24L204.08 255.12L205.56 252.98L207.05 250.84L208.54 248.7L210.03 246.55L211.51 244.41L213 242.27L214.49 240.13L215.97 238L217.46 235.87L218.95 233.76V198.3H28.55Z" fill="rgba(23,190,207,0.18)"/>
<path d="M28.55 207.69L30.04 211.31L31.52 214.87L33.01 218.37L34.5 221.82L35.99 225.21L37.48 228.54L38.96 231.82L40.45 235.04L41.94 238.2L43.42 241.31L44.91 244.35L46.4 247.35L47.89 250.28L49.38 253.16L50.86 255.98L52.35 258.74L53.84 261.45L55.33 264.1L56.81 266.69L58.3 269.23L59.79 271.7L61.27 274.13L62.76 276.49L64.25 278.8L65.74 281.05L67.22 283.24L68.71 285.38L70.2 287.46L71.69 289.48L73.18 291.45L74.66 293.36L76.15 295.21L77.64 297L79.12 298.74L80.61 300.42L82.1 302.05L83.59 303.61L85.07 305.12L86.56 306.58L88.05 307.97L89.54 309.31L91.03 310.59L92.51 311.82L94 312.99L95.49 314.1L96.97 315.15L98.46 316.15L99.95 317.09L101.44 317.97L102.92 318.8L104.41 319.57L105.9 320.28L107.39 320.94L108.88 321.53L110.36 322.07L111.85 322.56L113.34 322.99L114.83 323.36L116.31 323.67L117.8 323.93L119.29 324.13L120.77 324.27L122.26 324.35L123.75 324.38L125.24 324.35L126.73 324.27L128.21 324.13L129.7 323.93L131.19 323.67L132.68 323.36L134.16 322.99L135.65 322.56L137.14 322.07L138.62 321.53L140.11 320.94L141.6 320.28L143.09 319.57L144.57 318.8L146.06 317.97L147.55 317.09L149.04 316.15L150.52 315.15L152.01 314.1L153.5 312.99L154.99 311.82L156.47 310.59L157.96 309.31L159.45 307.97L160.94 306.58L162.43 305.12L163.91 303.61L165.4 302.05L166.89 300.42L168.38 298.74L169.86 297L171.35 295.21L172.84 293.36L174.33 291.45L175.81 289.48L177.3 287.46L178.79 285.38L180.28 283.24L181.76 281.05L183.25 278.8L184.74 276.49L186.22 274.13L187.71 271.7L189.2 269.23L190.69 266.69L192.17 264.1L193.66 261.45L195.15 258.74L196.64 255.98L198.12 253.16L199.61 250.28L201.1 247.35L202.59 244.35L204.08 241.31L205.56 238.2L207.05 235.04L208.54 231.82L210.03 228.54L211.51 225.21L213 221.82L214.49 218.37L215.97 214.87L217.46 211.31L218.95 207.69V198.3H28.55Z" fill="rgba(244,82,24,0.205)"/>
<path d="M28.55 207.69L30.04 211.31L31.52 214.87L33.01 218.37L34.5 221.82L35.99 225.21L37.48 228.54L38.96 231.82L40.45 235.04L41.94 238.2L43.42 241.31L44.91 244.35L46.4 247.35L47.89 250.28L49.38 253.16L50.86 255.98L52.35 258.74L53.84 261.45L55.33 264.1L56.81 266.69L58.3 269.23L59.79 271.7L61.27 274.13L62.76 276.49L64.25 278.8L65.74 281.05L67.22 283.24L68.71 285.38L70.2 287.46L71.69 289.48L73.18 291.45L74.66 293.36L76.15 295.21L77.64 297L79.12 298.74L80.61 300.42L82.1 302.05L83.59 303.61L85.07 305.12L86.56 306.58L88.05 307.97L89.54 309.31L91.03 310.59L92.51 311.82L94 312.99L95.49 314.1L96.97 315.15L98.46 316.15L99.95 317.09L101.44 317.97L102.92 318.8L104.41 319.57L105.9 320.28L107.39 320.94L108.88 321.53L110.36 322.07L111.85 322.56L113.34 322.99L114.83 323.36L116.31 323.67L117.8 323.93L119.29 324.13L120.77 324.27L122.26 324.35L123.75 324.38L125.24 324.35L126.73 324.27L128.21 324.13L129.7 323.93L131.19 323.67L132.68 323.36L134.16 322.99L135.65 322.56L137.14 322.07L138.62 321.53L140.11 320.94L141.6 320.28L143.09 319.57L144.57 318.8L146.06 317.97L147.55 317.09L149.04 316.15L150.52 315.15L152.01 314.1L153.5 312.99L154.99 311.82L156.47 310.59L157.96 309.31L159.45 307.97L160.94 306.58L162.43 305.12L163.91 303.61L165.4 302.05L166.89 300.42L168.38 298.74L169.86 297L171.35 295.21L172.84 293.36L174.33 291.45L175.81 289.48L177.3 287.46L178.79 285.38L180.28 283.24L181.76 281.05L183.25 278.8L184.74 276.49L186.22 274.13L187.71 271.7L189.2 269.23L190.69 266.69L192.17 264.1L193.66 261.45L195.15 258.74L196.64 255.98L198.12 253.16L199.61 250.28L201.1 247.35L202.59 244.35L204.08 241.31L205.56 238.2L207.05 235.04L208.54 231.82L210.03 228.54L211.51 225.21L213 221.82L214.49 218.37L215.97 214.87L217.46 211.31L218.95 207.69" fill="none" stroke="#c4323a" stroke-width="1.15"/>
<path d="M28.55 233.76L30.04 235.87L31.52 238L33.01 240.13L34.5 242.27L35.99 244.41L37.48 246.55L38.96 248.7L40.45 250.84L41.94 252.98L43.42 255.12L44.91 257.24L46.4 259.36L47.89 261.47L49.38 263.56L50.86 265.64L52.35 267.71L53.84 269.76L55.33 271.78L56.81 273.79L58.3 275.78L59.79 277.74L61.27 279.68L62.76 281.59L64.25 283.47L65.74 285.33L67.22 287.15L68.71 288.94L70.2 290.7L71.69 292.43L73.18 294.12L74.66 295.77L76.15 297.39L77.64 298.96L79.12 300.5L80.61 302L82.1 303.45L83.59 304.87L85.07 306.24L86.56 307.56L88.05 308.84L89.54 310.07L91.03 311.26L92.51 312.4L94 313.49L95.49 314.53L96.97 315.53L98.46 316.47L99.95 317.36L101.44 318.2L102.92 318.99L104.41 319.73L105.9 320.41L107.39 321.04L108.88 321.62L110.36 322.14L111.85 322.61L113.34 323.02L114.83 323.38L116.31 323.69L117.8 323.94L119.29 324.13L120.77 324.27L122.26 324.35L123.75 324.38L125.24 324.35L126.73 324.27L128.21 324.13L129.7 323.94L131.19 323.69L132.68 323.38L134.16 323.02L135.65 322.61L137.14 322.14L138.62 321.62L140.11 321.04L141.6 320.41L143.09 319.73L144.57 318.99L146.06 318.2L147.55 317.36L149.04 316.47L150.52 315.53L152.01 314.53L153.5 313.49L154.99 312.4L156.47 311.26L157.96 310.07L159.45 308.84L160.94 307.56L162.43 306.24L163.91 304.87L165.4 303.45L166.89 302L168.38 300.5L169.86 298.96L171.35 297.39L172.84 295.77L174.33 294.12L175.81 292.43L177.3 290.7L178.79 288.94L180.28 287.15L181.76 285.33L183.25 283.47L184.74 281.59L186.22 279.68L187.71 277.74L189.2 275.78L190.69 273.79L192.17 271.78L193.66 269.76L195.15 267.71L196.64 265.64L198.12 263.56L199.61 261.47L201.1 259.36L202.59 257.24L204.08 255.12L205.56 252.98L207.05 250.84L208.54 248.7L210.03 246.55L211.51 244.41L213 242.27L214.49 240.13L215.97 238L217.46 235.87L218.95 233.76" fill="none" stroke="#3574b8" stroke-width="1.15"/>
<path d="M123.75 324.38L132.73 323.4L136.45 322.42L139.3 321.43L141.69 320.45L143.78 319.47L145.66 318.49L147.38 317.5L148.98 316.52L150.51 315.54L151.97 314.56L153.4 313.57L154.8 312.59L156.17 311.61L157.52 310.63L158.84 309.64L160.13 308.66L161.4 307.68L162.64 306.69L163.85 305.71L165.04 304.73L166.21 303.75L167.38 302.76L168.52 301.78L169.64 300.8L170.73 299.82L171.78 298.83L172.78 297.85L173.74 296.87L174.68 295.89L175.65 294.9L176.66 293.92L177.73 292.94L178.86 291.95L180.03 290.97L181.22 289.99L182.45 289.01L183.7 288.02L184.97 287.04L186.24 286.06L187.53 285.08L188.85 284.09L190.22 283.11L191.63 282.13L193.07 281.15L194.53 280.16L196.05 279.18L197.63 278.2L199.26 277.21L200.89 276.23L202.48 275.25L204 274.27L205.24 273.28L206.34 272.3L207.26 271.32L207.94 270.34L208.44 269.35L208.74 268.37L208.91 267.39L208.98 266.41L208.92 265.61L208.72 264.81L208.39 264.01L207.93 263.22L207.35 262.43L206.63 261.65L205.78 260.88L204.81 260.11L203.72 259.35L202.5 258.61L201.15 257.88L199.69 257.16L198.12 256.45L196.42 255.76L194.62 255.09L192.71 254.43L190.69 253.79L188.56 253.18L186.34 252.58L184.02 252L181.61 251.45L179.1 250.92L176.52 250.41L173.85 249.93L171.1 249.47L168.28 249.04L165.4 248.63L162.45 248.26L159.43 247.91L156.37 247.59L153.25 247.29L150.09 247.03L146.89 246.8L143.65 246.6L140.38 246.43L137.08 246.29L133.77 246.18L130.44 246.1L127.1 246.05L123.75 246.04L120.4 246.05L117.06 246.1L113.73 246.18L110.42 246.29L107.12 246.43L103.85 246.6L100.61 246.8L97.41 247.03L94.25 247.29L91.13 247.59L88.07 247.91L85.05 248.26L82.1 248.63L79.22 249.04L76.4 249.47L73.65 249.93L70.98 250.41L68.4 250.92L65.89 251.45L63.48 252L61.16 252.58L58.94 253.18L56.81 253.79L54.79 254.43L52.88 255.09L51.08 255.76L49.38 256.45L47.81 257.16L46.35 257.88L45 258.61L43.78 259.35L42.69 260.11L41.72 260.88L40.87 261.65L40.15 262.43L39.57 263.22L39.11 264.01L38.78 264.81L38.58 265.61L38.52 266.41L38.59 267.39L38.76 268.37L39.06 269.35L39.56 270.34L40.24 271.32L41.16 272.3L42.26 273.28L43.5 274.27L45.02 275.25L46.61 276.23L48.24 277.21L49.87 278.2L51.45 279.18L52.97 280.16L54.43 281.15L55.87 282.13L57.28 283.11L58.65 284.09L59.97 285.08L61.26 286.06L62.53 287.04L63.8 288.02L65.05 289.01L66.28 289.99L67.47 290.97L68.64 291.95L69.77 292.94L70.84 293.92L71.85 294.9L72.82 295.89L73.76 296.87L74.72 297.85L75.72 298.83L76.77 299.82L77.86 300.8L78.98 301.78L80.12 302.76L81.29 303.75L82.46 304.73L83.65 305.71L84.86 306.69L86.1 307.68L87.37 308.66L88.66 309.64L89.98 310.63L91.33 311.61L92.7 312.59L94.1 313.57L95.53 314.56L96.99 315.54L98.52 316.52L100.12 317.5L101.84 318.49L103.72 319.47L105.81 320.45L108.2 321.43L111.05 322.42L114.77 323.4Z" fill="rgba(222,210,48,0.20)" stroke="#e3a332" stroke-width="1.3"/>
<ellipse cx="123.75" cy="295.89" rx="89.25" ry="28.49" fill="rgba(49,178,73,0.17)" stroke="#5dba74" stroke-width="1.15"/>
<g fill="#c3d0ee"><circle cx="112.3" cy="326.2" r="1.8"/><circle cx="118.9" cy="327.8" r="1.8"/><circle cx="137" cy="328.1" r="1.8"/><circle cx="129.6" cy="326.6" r="1.8"/></g>
<g fill="#f3b5a4"><circle cx="107.6" cy="325.5" r="1.8"/></g>
<g fill="#3fae55"><circle cx="102.1" cy="320.4" r="1.8"/><circle cx="105.4" cy="322.8" r="1.8"/><circle cx="137.4" cy="324.1" r="1.8"/><circle cx="109.9" cy="324.6" r="1.8"/></g>
<g fill="#c0281c"><circle cx="42.4" cy="209" r="1.8"/><circle cx="52.7" cy="230.8" r="1.8"/><circle cx="58.7" cy="236.5" r="1.8"/><circle cx="62.6" cy="254" r="1.8"/><circle cx="65.3" cy="258.8" r="1.8"/><circle cx="64.6" cy="258.2" r="1.8"/><circle cx="58.8" cy="262.5" r="1.8"/><circle cx="73.8" cy="270.8" r="1.8"/><circle cx="67" cy="275" r="1.8"/><circle cx="73.4" cy="275.4" r="1.8"/><circle cx="76.5" cy="274.2" r="1.8"/><circle cx="73.8" cy="278.9" r="1.8"/><circle cx="71.8" cy="285.4" r="1.8"/><circle cx="74.7" cy="284.4" r="1.8"/><circle cx="79.2" cy="290" r="1.8"/><circle cx="83.7" cy="288.1" r="1.8"/><circle cx="85.8" cy="288" r="1.8"/><circle cx="81.1" cy="291" r="1.8"/><circle cx="84.4" cy="292.3" r="1.8"/><circle cx="82.7" cy="294.3" r="1.8"/><circle cx="88.5" cy="294.3" r="1.8"/><circle cx="91.9" cy="296.4" r="1.8"/><circle cx="84.1" cy="297.2" r="1.8"/><circle cx="108.65" cy="292.7" r="1.8"/><circle cx="82.3" cy="293.2" r="1.8"/><circle cx="91.8" cy="296.3" r="1.8"/><circle cx="82.3" cy="301" r="1.8"/><circle cx="86.9" cy="300.6" r="1.8"/><circle cx="92.2" cy="300.6" r="1.8"/><circle cx="93" cy="300.2" r="1.8"/><circle cx="90.1" cy="303.5" r="1.8"/><circle cx="95.5" cy="303.5" r="1.8"/><circle cx="100.3" cy="302.5" r="1.8"/><circle cx="92.2" cy="306" r="1.8"/><circle cx="94.7" cy="306.4" r="1.8"/><circle cx="99.6" cy="305.6" r="1.8"/><circle cx="102.1" cy="306.8" r="1.8"/><circle cx="93" cy="309.3" r="1.8"/><circle cx="98.8" cy="309.3" r="1.8"/><circle cx="107" cy="309.7" r="1.8"/><circle cx="114.2" cy="309.1" r="1.8"/><circle cx="121.8" cy="307.6" r="1.8"/><circle cx="93.8" cy="312.1" r="1.8"/><circle cx="95.5" cy="314.2" r="1.8"/><circle cx="109.9" cy="313.4" r="1.8"/><circle cx="124.7" cy="315.4" r="1.8"/><circle cx="110.1" cy="313.2" r="1.8"/><circle cx="136.2" cy="318.4" r="1.8"/><circle cx="142.1" cy="319.2" r="1.8"/><circle cx="139.5" cy="321.3" r="1.8"/><circle cx="151.6" cy="313.9" r="1.8"/><circle cx="107" cy="309.8" r="1.8"/><circle cx="92.4" cy="302" r="1.8"/><circle cx="94.7" cy="305.5" r="1.8"/><circle cx="97" cy="309.4" r="1.8"/><circle cx="100.5" cy="307.8" r="1.8"/><circle cx="102.8" cy="310.8" r="1.8"/><circle cx="106.3" cy="312.4" r="1.8"/><circle cx="109.8" cy="314.7" r="1.8"/><circle cx="115.6" cy="318.6" r="1.8"/><circle cx="119" cy="317.7" r="1.8"/><circle cx="112.1" cy="317" r="1.8"/><circle cx="96.4" cy="311.6" r="1.8"/><circle cx="99.6" cy="312.6" r="1.8"/><circle cx="98.1" cy="311" r="1.8"/><circle cx="99" cy="310.9" r="1.8"/><circle cx="100.3" cy="310.9" r="1.8"/><circle cx="102" cy="311.4" r="1.8"/><circle cx="97.2" cy="312.7" r="1.8"/><circle cx="98.2" cy="311.9" r="1.8"/><circle cx="100.3" cy="311.9" r="1.8"/><circle cx="101.8" cy="312" r="1.8"/><circle cx="103.2" cy="312.6" r="1.8"/><circle cx="104.8" cy="312.4" r="1.8"/><circle cx="97.4" cy="313.3" r="1.8"/><circle cx="99.2" cy="313.5" r="1.8"/><circle cx="100.7" cy="314" r="1.8"/><circle cx="102.4" cy="313.2" r="1.8"/><circle cx="103.5" cy="313.7" r="1.8"/><circle cx="105.2" cy="313.8" r="1.8"/><circle cx="98.9" cy="314.6" r="1.8"/><circle cx="100" cy="314.9" r="1.8"/><circle cx="101.5" cy="315.3" r="1.8"/><circle cx="103.2" cy="315.3" r="1.8"/><circle cx="104.1" cy="315.1" r="1.8"/><circle cx="106.1" cy="315.1" r="1.8"/><circle cx="107.6" cy="315.2" r="1.8"/><circle cx="108.8" cy="315.3" r="1.8"/><circle cx="101.1" cy="316" r="1.8"/><circle cx="102.2" cy="315.9" r="1.8"/><circle cx="103.3" cy="315.8" r="1.8"/><circle cx="105" cy="315.9" r="1.8"/><circle cx="106.3" cy="316.7" r="1.8"/><circle cx="108" cy="316.6" r="1.8"/><circle cx="109.9" cy="316.4" r="1.8"/><circle cx="111.3" cy="316.6" r="1.8"/><circle cx="125" cy="316.1" r="1.8"/><circle cx="126.1" cy="316.2" r="1.8"/><circle cx="127.3" cy="316.6" r="1.8"/><circle cx="103.3" cy="317.4" r="1.8"/><circle cx="104.6" cy="317.9" r="1.8"/><circle cx="106" cy="317.1" r="1.8"/><circle cx="107.6" cy="317.3" r="1.8"/><circle cx="109.3" cy="317.7" r="1.8"/><circle cx="110.3" cy="317.9" r="1.8"/><circle cx="112.1" cy="317.4" r="1.8"/><circle cx="113.8" cy="317.9" r="1.8"/><circle cx="115.3" cy="317.9" r="1.8"/><circle cx="116.6" cy="317.7" r="1.8"/><circle cx="118" cy="317.6" r="1.8"/><circle cx="120.6" cy="317.7" r="1.8"/><circle cx="122.4" cy="317.6" r="1.8"/><circle cx="124" cy="317.3" r="1.8"/><circle cx="125.2" cy="317.1" r="1.8"/><circle cx="127.2" cy="317.9" r="1.8"/><circle cx="128.6" cy="317.2" r="1.8"/><circle cx="103.9" cy="319.2" r="1.8"/><circle cx="105" cy="319" r="1.8"/><circle cx="107" cy="319" r="1.8"/><circle cx="108.1" cy="318.5" r="1.8"/><circle cx="109.3" cy="319.2" r="1.8"/><circle cx="111.6" cy="318.6" r="1.8"/><circle cx="112.9" cy="318.8" r="1.8"/><circle cx="114.3" cy="319.1" r="1.8"/><circle cx="115.5" cy="318.9" r="1.8"/><circle cx="117" cy="318.9" r="1.8"/><circle cx="118.3" cy="318.6" r="1.8"/><circle cx="120" cy="319.2" r="1.8"/><circle cx="121.4" cy="319.1" r="1.8"/><circle cx="122.8" cy="319.3" r="1.8"/><circle cx="124.4" cy="318.5" r="1.8"/><circle cx="125.9" cy="319.2" r="1.8"/><circle cx="127.9" cy="319.2" r="1.8"/><circle cx="129.2" cy="318.5" r="1.8"/><circle cx="130.6" cy="318.8" r="1.8"/><circle cx="106" cy="320" r="1.8"/><circle cx="107.9" cy="319.8" r="1.8"/><circle cx="108.7" cy="320.6" r="1.8"/><circle cx="110.9" cy="320.3" r="1.8"/><circle cx="112.4" cy="319.7" r="1.8"/><circle cx="113.8" cy="320.3" r="1.8"/><circle cx="115.1" cy="320.5" r="1.8"/><circle cx="116.1" cy="319.9" r="1.8"/><circle cx="117.6" cy="320.1" r="1.8"/><circle cx="119.5" cy="320.2" r="1.8"/><circle cx="120.8" cy="320.4" r="1.8"/><circle cx="122.8" cy="320.4" r="1.8"/><circle cx="123.5" cy="319.8" r="1.8"/><circle cx="125.2" cy="319.9" r="1.8"/><circle cx="127" cy="319.9" r="1.8"/><circle cx="128.6" cy="320" r="1.8"/><circle cx="129.8" cy="320.3" r="1.8"/><circle cx="131.8" cy="319.9" r="1.8"/><circle cx="132.8" cy="320.6" r="1.8"/><circle cx="106.6" cy="321.1" r="1.8"/><circle cx="108" cy="321.5" r="1.8"/><circle cx="110.1" cy="321.4" r="1.8"/><circle cx="111.6" cy="321.5" r="1.8"/><circle cx="112.4" cy="321.6" r="1.8"/><circle cx="114.3" cy="321.5" r="1.8"/><circle cx="115.9" cy="321" r="1.8"/><circle cx="117.1" cy="321.7" r="1.8"/><circle cx="118.4" cy="321" r="1.8"/><circle cx="119.9" cy="321.3" r="1.8"/><circle cx="121.6" cy="321.3" r="1.8"/><circle cx="123.3" cy="321.2" r="1.8"/><circle cx="124.6" cy="321.6" r="1.8"/><circle cx="126.2" cy="321.9" r="1.8"/><circle cx="128.1" cy="321.2" r="1.8"/><circle cx="129.1" cy="321.5" r="1.8"/><circle cx="130.7" cy="321.3" r="1.8"/><circle cx="132.5" cy="321.2" r="1.8"/><circle cx="133.7" cy="321.1" r="1.8"/><circle cx="110.3" cy="322.7" r="1.8"/><circle cx="111.5" cy="322.8" r="1.8"/><circle cx="113.8" cy="323.1" r="1.8"/><circle cx="114.6" cy="322.7" r="1.8"/><circle cx="116.1" cy="322.7" r="1.8"/><circle cx="118.3" cy="322.6" r="1.8"/><circle cx="119.8" cy="323.2" r="1.8"/><circle cx="121.2" cy="322.5" r="1.8"/><circle cx="122.8" cy="323.1" r="1.8"/><circle cx="124.4" cy="322.3" r="1.8"/><circle cx="125" cy="322.6" r="1.8"/><circle cx="127" cy="322.7" r="1.8"/><circle cx="128.1" cy="322.9" r="1.8"/><circle cx="130.1" cy="322.9" r="1.8"/><circle cx="131.5" cy="322.8" r="1.8"/><circle cx="133.1" cy="322.4" r="1.8"/><circle cx="134.4" cy="322.4" r="1.8"/><circle cx="135.6" cy="323" r="1.8"/><circle cx="117.2" cy="323.9" r="1.8"/><circle cx="118.5" cy="323.9" r="1.8"/><circle cx="120" cy="323.9" r="1.8"/><circle cx="121.4" cy="324" r="1.8"/><circle cx="123" cy="323.9" r="1.8"/><circle cx="124.8" cy="323.9" r="1.8"/><circle cx="126.5" cy="324.3" r="1.8"/><circle cx="127.5" cy="324.4" r="1.8"/><circle cx="128.9" cy="323.7" r="1.8"/><circle cx="131.1" cy="323.6" r="1.8"/></g>
</g>
<path d="M64.25 345.75v-2.1M64.25 203.3v2.1M123.75 345.75v-2.1M123.75 203.3v2.1M183.25 345.75v-2.1M183.25 203.3v2.1M34.5 310.14h2.1M213 310.14h-2.1M34.5 274.52h2.1M213 274.52h-2.1M34.5 238.91h2.1M213 238.91h-2.1" stroke="#222" stroke-width="0.8" fill="none"/>
<rect x="34.5" y="203.3" width="178.5" height="142.45" fill="none" stroke="#4c4c4c" stroke-width="1"/>
<text class="tk" transform="translate(29 350.75) scale(1 1)" text-anchor="end">0</text>
<text class="tk" transform="translate(29 315.64) scale(1 1)" text-anchor="end">5</text>
<text class="tk" transform="translate(27.2 280.22) scale(1 1)" text-anchor="end">10</text>
<text class="tk" transform="translate(27.2 244.91) scale(1 1)" text-anchor="end">15</text>
<text class="tk" transform="translate(27.2 208.6) scale(1 1)" text-anchor="end">20</text>
<text class="tk" transform="translate(63.35 358.2) scale(0.99 1)" text-anchor="middle">-2</text>
<text class="tk" transform="translate(123.05 358.2) scale(0.99 1)" text-anchor="middle">0</text>
<text class="tk" transform="translate(182.55 358.2) scale(0.99 1)" text-anchor="middle">2</text>
<text class="lb" transform="translate(125.75 369.8) scale(1.05 1)" text-anchor="middle">Skewness <tspan class="gm" dy="-2.2">γ</tspan><tspan class="sub" dy="6.3">3</tspan></text>
<text class="lb" transform="translate(10.3 272.42) rotate(-90) scale(1.05 1)" text-anchor="middle">Kurtosis <tspan class="gm" dy="-3.6">γ</tspan><tspan class="sub" dy="4.9">4</tspan></text>
<text class="cap" transform="translate(122.75 384.85) scale(1.04 1)" text-anchor="middle">(d) Model-3</text>
<clipPath id="clip_e"><rect x="269.8" y="203.3" width="178.7" height="142.45"/></clipPath>
<rect x="269.8" y="203.3" width="178.7" height="142.45" fill="#fff"/>
<g clip-path="url(#clip_e)">
<rect x="267.8" y="321.18" width="182.7" height="5.84" fill="rgba(215,163,131,0.25)"/>
<path d="M269.8 321.18H448.5M269.8 327.02H448.5" stroke="#efbba9" stroke-width="0.9" fill="none"/>
<path d="M270.99 348.96C271.36 348.42 272.37 346.78 273.2 345.75C274.02 344.72 274.45 343.97 275.94 342.76C277.42 341.55 279.55 339.84 282.13 338.49C284.71 337.13 288.51 335.74 291.42 334.64C294.33 333.54 297.01 332.7 299.58 331.88C302.15 331.07 303.67 330.55 306.85 329.74C310.03 328.93 314.49 327.76 318.64 327.02C322.79 326.28 327.48 325.71 331.75 325.31C336.02 324.91 339.69 324.79 344.26 324.63C348.83 324.48 354.19 324.38 359.15 324.38C364.11 324.38 369.47 324.48 374.04 324.63C378.61 324.79 382.28 324.91 386.55 325.31C390.82 325.71 395.51 326.28 399.66 327.02C403.81 327.76 408.27 328.93 411.45 329.74C414.63 330.55 416.15 331.07 418.72 331.88C421.29 332.7 423.97 333.54 426.88 334.64C429.79 335.74 433.59 337.13 436.17 338.49C438.75 339.84 440.88 341.55 442.36 342.76C443.85 343.97 444.28 344.72 445.1 345.75C445.93 346.78 446.94 348.42 447.31 348.96V350.75H270.99Z" fill="#fff"/>
<ellipse cx="359.15" cy="295.89" rx="89.35" ry="28.49" fill="#fff"/>
<path d="M299.58 203.3V345.75M359.15 203.3V345.75M418.72 203.3V345.75M269.8 310.14H448.5M269.8 274.52H448.5M269.8 238.91H448.5" stroke="#000" stroke-opacity="0.10" stroke-width="0.6" fill="none"/>
<path d="M270.99 348.96C271.36 348.42 272.37 346.78 273.2 345.75C274.02 344.72 274.45 343.97 275.94 342.76C277.42 341.55 279.55 339.84 282.13 338.49C284.71 337.13 288.51 335.74 291.42 334.64C294.33 333.54 297.01 332.7 299.58 331.88C302.15 331.07 303.67 330.55 306.85 329.74C310.03 328.93 314.49 327.76 318.64 327.02C322.79 326.28 327.48 325.71 331.75 325.31C336.02 324.91 339.69 324.79 344.26 324.63C348.83 324.48 354.19 324.38 359.15 324.38C364.11 324.38 369.47 324.48 374.04 324.63C378.61 324.79 382.28 324.91 386.55 325.31C390.82 325.71 395.51 326.28 399.66 327.02C403.81 327.76 408.27 328.93 411.45 329.74C414.63 330.55 416.15 331.07 418.72 331.88C421.29 332.7 423.97 333.54 426.88 334.64C429.79 335.74 433.59 337.13 436.17 338.49C438.75 339.84 440.88 341.55 442.36 342.76C443.85 343.97 444.28 344.72 445.1 345.75C445.93 346.78 446.94 348.42 447.31 348.96V350.75H270.99Z" fill="rgba(150,205,240,0.13)"/>
<path d="M270.99 348.96C271.36 348.42 272.37 346.78 273.2 345.75C274.02 344.72 274.45 343.97 275.94 342.76C277.42 341.55 279.55 339.84 282.13 338.49C284.71 337.13 288.51 335.74 291.42 334.64C294.33 333.54 297.01 332.7 299.58 331.88C302.15 331.07 303.67 330.55 306.85 329.74C310.03 328.93 314.49 327.76 318.64 327.02C322.79 326.28 327.48 325.71 331.75 325.31C336.02 324.91 339.69 324.79 344.26 324.63C348.83 324.48 354.19 324.38 359.15 324.38C364.11 324.38 369.47 324.48 374.04 324.63C378.61 324.79 382.28 324.91 386.55 325.31C390.82 325.71 395.51 326.28 399.66 327.02C403.81 327.76 408.27 328.93 411.45 329.74C414.63 330.55 416.15 331.07 418.72 331.88C421.29 332.7 423.97 333.54 426.88 334.64C429.79 335.74 433.59 337.13 436.17 338.49C438.75 339.84 440.88 341.55 442.36 342.76C443.85 343.97 444.28 344.72 445.1 345.75C445.93 346.78 446.94 348.42 447.31 348.96" fill="none" stroke="#b0c5ea" stroke-width="1.2" stroke-linejoin="round"/>
<path d="M263.84 233.76L265.33 235.87L266.82 238L268.31 240.13L269.8 242.27L271.29 244.41L272.78 246.55L274.27 248.7L275.76 250.84L277.25 252.98L278.74 255.12L280.22 257.24L281.71 259.36L283.2 261.47L284.69 263.56L286.18 265.64L287.67 267.71L289.16 269.76L290.65 271.78L292.14 273.79L293.63 275.78L295.12 277.74L296.61 279.68L298.09 281.59L299.58 283.47L301.07 285.33L302.56 287.15L304.05 288.94L305.54 290.7L307.03 292.43L308.52 294.12L310.01 295.77L311.5 297.39L312.99 298.96L314.48 300.5L315.96 302L317.45 303.45L318.94 304.87L320.43 306.24L321.92 307.56L323.41 308.84L324.9 310.07L326.39 311.26L327.88 312.4L329.37 313.49L330.86 314.53L332.35 315.53L333.83 316.47L335.32 317.36L336.81 318.2L338.3 318.99L339.79 319.73L341.28 320.41L342.77 321.04L344.26 321.62L345.75 322.14L347.24 322.61L348.73 323.02L350.22 323.38L351.7 323.69L353.19 323.94L354.68 324.13L356.17 324.27L357.66 324.35L359.15 324.38L360.64 324.35L362.13 324.27L363.62 324.13L365.11 323.94L366.6 323.69L368.08 323.38L369.57 323.02L371.06 322.61L372.55 322.14L374.04 321.62L375.53 321.04L377.02 320.41L378.51 319.73L380 318.99L381.49 318.2L382.98 317.36L384.47 316.47L385.95 315.53L387.44 314.53L388.93 313.49L390.42 312.4L391.91 311.26L393.4 310.07L394.89 308.84L396.38 307.56L397.87 306.24L399.36 304.87L400.85 303.45L402.34 302L403.82 300.5L405.31 298.96L406.8 297.39L408.29 295.77L409.78 294.12L411.27 292.43L412.76 290.7L414.25 288.94L415.74 287.15L417.23 285.33L418.72 283.47L420.21 281.59L421.69 279.68L423.18 277.74L424.67 275.78L426.16 273.79L427.65 271.78L429.14 269.76L430.63 267.71L432.12 265.64L433.61 263.56L435.1 261.47L436.59 259.36L438.08 257.24L439.56 255.12L441.05 252.98L442.54 250.84L444.03 248.7L445.52 246.55L447.01 244.41L448.5 242.27L449.99 240.13L451.48 238L452.97 235.87L454.46 233.76V198.3H263.84Z" fill="rgba(23,190,207,0.18)"/>
<path d="M263.84 207.69L265.33 211.31L266.82 214.87L268.31 218.37L269.8 221.82L271.29 225.21L272.78 228.54L274.27 231.82L275.76 235.04L277.25 238.2L278.74 241.31L280.22 244.35L281.71 247.35L283.2 250.28L284.69 253.16L286.18 255.98L287.67 258.74L289.16 261.45L290.65 264.1L292.14 266.69L293.63 269.23L295.12 271.7L296.61 274.13L298.09 276.49L299.58 278.8L301.07 281.05L302.56 283.24L304.05 285.38L305.54 287.46L307.03 289.48L308.52 291.45L310.01 293.36L311.5 295.21L312.99 297L314.48 298.74L315.96 300.42L317.45 302.05L318.94 303.61L320.43 305.12L321.92 306.58L323.41 307.97L324.9 309.31L326.39 310.59L327.88 311.82L329.37 312.99L330.86 314.1L332.35 315.15L333.83 316.15L335.32 317.09L336.81 317.97L338.3 318.8L339.79 319.57L341.28 320.28L342.77 320.94L344.26 321.53L345.75 322.07L347.24 322.56L348.73 322.99L350.22 323.36L351.7 323.67L353.19 323.93L354.68 324.13L356.17 324.27L357.66 324.35L359.15 324.38L360.64 324.35L362.13 324.27L363.62 324.13L365.11 323.93L366.6 323.67L368.08 323.36L369.57 322.99L371.06 322.56L372.55 322.07L374.04 321.53L375.53 320.94L377.02 320.28L378.51 319.57L380 318.8L381.49 317.97L382.98 317.09L384.47 316.15L385.95 315.15L387.44 314.1L388.93 312.99L390.42 311.82L391.91 310.59L393.4 309.31L394.89 307.97L396.38 306.58L397.87 305.12L399.36 303.61L400.85 302.05L402.34 300.42L403.82 298.74L405.31 297L406.8 295.21L408.29 293.36L409.78 291.45L411.27 289.48L412.76 287.46L414.25 285.38L415.74 283.24L417.23 281.05L418.72 278.8L420.21 276.49L421.69 274.13L423.18 271.7L424.67 269.23L426.16 266.69L427.65 264.1L429.14 261.45L430.63 258.74L432.12 255.98L433.61 253.16L435.1 250.28L436.59 247.35L438.08 244.35L439.56 241.31L441.05 238.2L442.54 235.04L444.03 231.82L445.52 228.54L447.01 225.21L448.5 221.82L449.99 218.37L451.48 214.87L452.97 211.31L454.46 207.69V198.3H263.84Z" fill="rgba(244,82,24,0.205)"/>
<path d="M263.84 207.69L265.33 211.31L266.82 214.87L268.31 218.37L269.8 221.82L271.29 225.21L272.78 228.54L274.27 231.82L275.76 235.04L277.25 238.2L278.74 241.31L280.22 244.35L281.71 247.35L283.2 250.28L284.69 253.16L286.18 255.98L287.67 258.74L289.16 261.45L290.65 264.1L292.14 266.69L293.63 269.23L295.12 271.7L296.61 274.13L298.09 276.49L299.58 278.8L301.07 281.05L302.56 283.24L304.05 285.38L305.54 287.46L307.03 289.48L308.52 291.45L310.01 293.36L311.5 295.21L312.99 297L314.48 298.74L315.96 300.42L317.45 302.05L318.94 303.61L320.43 305.12L321.92 306.58L323.41 307.97L324.9 309.31L326.39 310.59L327.88 311.82L329.37 312.99L330.86 314.1L332.35 315.15L333.83 316.15L335.32 317.09L336.81 317.97L338.3 318.8L339.79 319.57L341.28 320.28L342.77 320.94L344.26 321.53L345.75 322.07L347.24 322.56L348.73 322.99L350.22 323.36L351.7 323.67L353.19 323.93L354.68 324.13L356.17 324.27L357.66 324.35L359.15 324.38L360.64 324.35L362.13 324.27L363.62 324.13L365.11 323.93L366.6 323.67L368.08 323.36L369.57 322.99L371.06 322.56L372.55 322.07L374.04 321.53L375.53 320.94L377.02 320.28L378.51 319.57L380 318.8L381.49 317.97L382.98 317.09L384.47 316.15L385.95 315.15L387.44 314.1L388.93 312.99L390.42 311.82L391.91 310.59L393.4 309.31L394.89 307.97L396.38 306.58L397.87 305.12L399.36 303.61L400.85 302.05L402.34 300.42L403.82 298.74L405.31 297L406.8 295.21L408.29 293.36L409.78 291.45L411.27 289.48L412.76 287.46L414.25 285.38L415.74 283.24L417.23 281.05L418.72 278.8L420.21 276.49L421.69 274.13L423.18 271.7L424.67 269.23L426.16 266.69L427.65 264.1L429.14 261.45L430.63 258.74L432.12 255.98L433.61 253.16L435.1 250.28L436.59 247.35L438.08 244.35L439.56 241.31L441.05 238.2L442.54 235.04L444.03 231.82L445.52 228.54L447.01 225.21L448.5 221.82L449.99 218.37L451.48 214.87L452.97 211.31L454.46 207.69" fill="none" stroke="#c4323a" stroke-width="1.15"/>
<path d="M263.84 233.76L265.33 235.87L266.82 238L268.31 240.13L269.8 242.27L271.29 244.41L272.78 246.55L274.27 248.7L275.76 250.84L277.25 252.98L278.74 255.12L280.22 257.24L281.71 259.36L283.2 261.47L284.69 263.56L286.18 265.64L287.67 267.71L289.16 269.76L290.65 271.78L292.14 273.79L293.63 275.78L295.12 277.74L296.61 279.68L298.09 281.59L299.58 283.47L301.07 285.33L302.56 287.15L304.05 288.94L305.54 290.7L307.03 292.43L308.52 294.12L310.01 295.77L311.5 297.39L312.99 298.96L314.48 300.5L315.96 302L317.45 303.45L318.94 304.87L320.43 306.24L321.92 307.56L323.41 308.84L324.9 310.07L326.39 311.26L327.88 312.4L329.37 313.49L330.86 314.53L332.35 315.53L333.83 316.47L335.32 317.36L336.81 318.2L338.3 318.99L339.79 319.73L341.28 320.41L342.77 321.04L344.26 321.62L345.75 322.14L347.24 322.61L348.73 323.02L350.22 323.38L351.7 323.69L353.19 323.94L354.68 324.13L356.17 324.27L357.66 324.35L359.15 324.38L360.64 324.35L362.13 324.27L363.62 324.13L365.11 323.94L366.6 323.69L368.08 323.38L369.57 323.02L371.06 322.61L372.55 322.14L374.04 321.62L375.53 321.04L377.02 320.41L378.51 319.73L380 318.99L381.49 318.2L382.98 317.36L384.47 316.47L385.95 315.53L387.44 314.53L388.93 313.49L390.42 312.4L391.91 311.26L393.4 310.07L394.89 308.84L396.38 307.56L397.87 306.24L399.36 304.87L400.85 303.45L402.34 302L403.82 300.5L405.31 298.96L406.8 297.39L408.29 295.77L409.78 294.12L411.27 292.43L412.76 290.7L414.25 288.94L415.74 287.15L417.23 285.33L418.72 283.47L420.21 281.59L421.69 279.68L423.18 277.74L424.67 275.78L426.16 273.79L427.65 271.78L429.14 269.76L430.63 267.71L432.12 265.64L433.61 263.56L435.1 261.47L436.59 259.36L438.08 257.24L439.56 255.12L441.05 252.98L442.54 250.84L444.03 248.7L445.52 246.55L447.01 244.41L448.5 242.27L449.99 240.13L451.48 238L452.97 235.87L454.46 233.76" fill="none" stroke="#3574b8" stroke-width="1.15"/>
<path d="M359.15 324.38L368.14 323.4L371.86 322.42L374.71 321.43L377.11 320.45L379.21 319.47L381.08 318.49L382.8 317.5L384.41 316.52L385.94 315.54L387.4 314.56L388.83 313.57L390.23 312.59L391.61 311.61L392.96 310.63L394.28 309.64L395.58 308.66L396.84 307.68L398.08 306.69L399.3 305.71L400.48 304.73L401.66 303.75L402.83 302.76L403.97 301.78L405.09 300.8L406.18 299.82L407.24 298.83L408.23 297.85L409.19 296.87L410.14 295.89L411.11 294.9L412.12 293.92L413.19 292.94L414.32 291.95L415.49 290.97L416.69 289.99L417.92 289.01L419.17 288.02L420.43 287.04L421.71 286.06L423 285.08L424.32 284.09L425.7 283.11L427.11 282.13L428.55 281.15L430.01 280.16L431.53 279.18L433.11 278.2L434.74 277.21L436.38 276.23L437.97 275.25L439.48 274.27L440.73 273.28L441.83 272.3L442.76 271.32L443.44 270.34L443.93 269.35L444.24 268.37L444.4 267.39L444.48 266.41L444.41 265.61L444.22 264.81L443.89 264.01L443.43 263.22L442.84 262.43L442.12 261.65L441.28 260.88L440.3 260.11L439.21 259.35L437.98 258.61L436.64 257.88L435.18 257.16L433.6 256.45L431.91 255.76L430.1 255.09L428.18 254.43L426.16 253.79L424.03 253.18L421.81 252.58L419.49 252L417.07 251.45L414.57 250.92L411.98 250.41L409.31 249.93L406.56 249.47L403.73 249.04L400.84 248.63L397.89 248.26L394.87 247.91L391.8 247.59L388.68 247.29L385.52 247.03L382.31 246.8L379.07 246.6L375.8 246.43L372.5 246.29L369.18 246.18L365.84 246.1L362.5 246.05L359.15 246.04L355.8 246.05L352.46 246.1L349.12 246.18L345.8 246.29L342.5 246.43L339.23 246.6L335.99 246.8L332.78 247.03L329.62 247.29L326.5 247.59L323.43 247.91L320.41 248.26L317.46 248.63L314.57 249.04L311.74 249.47L308.99 249.93L306.32 250.41L303.73 250.92L301.23 251.45L298.81 252L296.49 252.58L294.27 253.18L292.14 253.79L290.12 254.43L288.2 255.09L286.39 255.76L284.7 256.45L283.12 257.16L281.66 257.88L280.32 258.61L279.09 259.35L278 260.11L277.02 260.88L276.18 261.65L275.46 262.43L274.87 263.22L274.41 264.01L274.08 264.81L273.89 265.61L273.82 266.41L273.9 267.39L274.06 268.37L274.37 269.35L274.86 270.34L275.54 271.32L276.47 272.3L277.57 273.28L278.82 274.27L280.33 275.25L281.92 276.23L283.56 277.21L285.19 278.2L286.77 279.18L288.29 280.16L289.75 281.15L291.19 282.13L292.6 283.11L293.98 284.09L295.3 285.08L296.59 286.06L297.87 287.04L299.13 288.02L300.38 289.01L301.61 289.99L302.81 290.97L303.98 291.95L305.11 292.94L306.18 293.92L307.19 294.9L308.16 295.89L309.11 296.87L310.07 297.85L311.06 298.83L312.12 299.82L313.21 300.8L314.33 301.78L315.47 302.76L316.64 303.75L317.82 304.73L319 305.71L320.22 306.69L321.46 307.68L322.72 308.66L324.02 309.64L325.34 310.63L326.69 311.61L328.07 312.59L329.47 313.57L330.9 314.56L332.36 315.54L333.89 316.52L335.5 317.5L337.22 318.49L339.09 319.47L341.19 320.45L343.59 321.43L346.44 322.42L350.16 323.4Z" fill="rgba(222,210,48,0.20)" stroke="#e3a332" stroke-width="1.3"/>
<ellipse cx="359.15" cy="295.89" rx="89.35" ry="28.49" fill="rgba(49,178,73,0.17)" stroke="#5dba74" stroke-width="1.15"/>
<g fill="#c3d0ee"><circle cx="345.2" cy="326.4" r="1.8"/><circle cx="351.9" cy="327.5" r="1.8"/><circle cx="374" cy="327.5" r="1.8"/><circle cx="366.2" cy="327" r="1.8"/></g>
<g fill="#f3b5a4"><circle cx="377" cy="325.1" r="1.8"/></g>
<g fill="#3fae55"><circle cx="335.4" cy="318.5" r="1.8"/><circle cx="342.1" cy="323.3" r="1.8"/><circle cx="378.1" cy="321.1" r="1.8"/><circle cx="372.9" cy="323.3" r="1.8"/><circle cx="347.2" cy="325.4" r="1.8"/></g>
<g fill="#c0281c"><circle cx="329.8" cy="299" r="1.8"/><circle cx="331.8" cy="300.2" r="1.8"/><circle cx="329" cy="302.1" r="1.8"/><circle cx="327.2" cy="306.9" r="1.8"/><circle cx="335.9" cy="307.4" r="1.8"/><circle cx="333.4" cy="309.5" r="1.8"/><circle cx="349.5" cy="309" r="1.8"/><circle cx="369.8" cy="310.5" r="1.8"/><circle cx="359.4" cy="314.1" r="1.8"/><circle cx="332.8" cy="313.1" r="1.8"/><circle cx="369.1" cy="316.7" r="1.8"/><circle cx="374.3" cy="317.7" r="1.8"/><circle cx="364.7" cy="318.2" r="1.8"/><circle cx="335.2" cy="311.2" r="1.8"/><circle cx="342.6" cy="312.6" r="1.8"/><circle cx="337.1" cy="313.5" r="1.8"/><circle cx="338.2" cy="314" r="1.8"/><circle cx="339.7" cy="313.6" r="1.8"/><circle cx="341.9" cy="313.3" r="1.8"/><circle cx="343.3" cy="314" r="1.8"/><circle cx="344.7" cy="313.9" r="1.8"/><circle cx="345.7" cy="313.6" r="1.8"/><circle cx="338" cy="315" r="1.8"/><circle cx="338.9" cy="315" r="1.8"/><circle cx="340.6" cy="315.1" r="1.8"/><circle cx="342.3" cy="315.2" r="1.8"/><circle cx="344" cy="315.2" r="1.8"/><circle cx="345.2" cy="315" r="1.8"/><circle cx="347.1" cy="315.2" r="1.8"/><circle cx="348.2" cy="315.2" r="1.8"/><circle cx="350.2" cy="315.1" r="1.8"/><circle cx="351.8" cy="315.3" r="1.8"/><circle cx="338.6" cy="316.1" r="1.8"/><circle cx="340.2" cy="316.3" r="1.8"/><circle cx="341.4" cy="316.6" r="1.8"/><circle cx="342.7" cy="316.1" r="1.8"/><circle cx="344.4" cy="316.1" r="1.8"/><circle cx="345.8" cy="316.5" r="1.8"/><circle cx="347.5" cy="315.8" r="1.8"/><circle cx="349.2" cy="315.9" r="1.8"/><circle cx="350.6" cy="316.1" r="1.8"/><circle cx="352.2" cy="316.6" r="1.8"/><circle cx="353.9" cy="316.1" r="1.8"/><circle cx="338.3" cy="317.5" r="1.8"/><circle cx="339.3" cy="317.4" r="1.8"/><circle cx="341.3" cy="317.5" r="1.8"/><circle cx="342.2" cy="317.5" r="1.8"/><circle cx="343.5" cy="317.6" r="1.8"/><circle cx="345.3" cy="317.3" r="1.8"/><circle cx="347.1" cy="317.8" r="1.8"/><circle cx="347.9" cy="317.6" r="1.8"/><circle cx="349.6" cy="317.9" r="1.8"/><circle cx="351.6" cy="317.3" r="1.8"/><circle cx="352.6" cy="317.2" r="1.8"/><circle cx="354.8" cy="317.3" r="1.8"/><circle cx="355.9" cy="317.5" r="1.8"/><circle cx="357.5" cy="317.6" r="1.8"/><circle cx="340.4" cy="318.6" r="1.8"/><circle cx="341.4" cy="319.1" r="1.8"/><circle cx="342.7" cy="319.1" r="1.8"/><circle cx="344.8" cy="318.8" r="1.8"/><circle cx="345.9" cy="319.1" r="1.8"/><circle cx="348" cy="318.5" r="1.8"/><circle cx="349.1" cy="318.9" r="1.8"/><circle cx="350.6" cy="318.7" r="1.8"/><circle cx="351.8" cy="318.9" r="1.8"/><circle cx="353.9" cy="318.4" r="1.8"/><circle cx="354.9" cy="319.1" r="1.8"/><circle cx="356.9" cy="319" r="1.8"/><circle cx="357.7" cy="319" r="1.8"/><circle cx="360" cy="319.3" r="1.8"/><circle cx="342.4" cy="320.1" r="1.8"/><circle cx="344.2" cy="320" r="1.8"/><circle cx="345" cy="320.3" r="1.8"/><circle cx="346.5" cy="320.3" r="1.8"/><circle cx="348.4" cy="320.5" r="1.8"/><circle cx="349.9" cy="320.2" r="1.8"/><circle cx="351.1" cy="320.2" r="1.8"/><circle cx="352.6" cy="320.4" r="1.8"/><circle cx="354.4" cy="319.8" r="1.8"/><circle cx="355.6" cy="320" r="1.8"/><circle cx="357.6" cy="319.8" r="1.8"/><circle cx="359" cy="320.3" r="1.8"/><circle cx="360" cy="320.3" r="1.8"/><circle cx="361.5" cy="319.8" r="1.8"/><circle cx="363.4" cy="319.9" r="1.8"/><circle cx="365.2" cy="320.1" r="1.8"/><circle cx="366.2" cy="320.4" r="1.8"/><circle cx="367.4" cy="320.3" r="1.8"/><circle cx="371.3" cy="320.3" r="1.8"/><circle cx="344.9" cy="321.4" r="1.8"/><circle cx="346.4" cy="321.5" r="1.8"/><circle cx="347.7" cy="321.5" r="1.8"/><circle cx="349.3" cy="321.3" r="1.8"/><circle cx="350.2" cy="321" r="1.8"/><circle cx="351.8" cy="321" r="1.8"/><circle cx="354" cy="321.4" r="1.8"/><circle cx="355.3" cy="321" r="1.8"/><circle cx="356.6" cy="321.8" r="1.8"/><circle cx="358.2" cy="321.4" r="1.8"/><circle cx="359.6" cy="321.1" r="1.8"/><circle cx="360.8" cy="321.1" r="1.8"/><circle cx="362.5" cy="321.3" r="1.8"/><circle cx="364.4" cy="321.1" r="1.8"/><circle cx="365.4" cy="321.2" r="1.8"/><circle cx="366.8" cy="321.2" r="1.8"/><circle cx="368.4" cy="321.4" r="1.8"/><circle cx="369.7" cy="321.8" r="1.8"/><circle cx="371.5" cy="321.8" r="1.8"/><circle cx="346.7" cy="322.6" r="1.8"/><circle cx="348.3" cy="322.5" r="1.8"/><circle cx="350.1" cy="322.9" r="1.8"/><circle cx="351" cy="322.5" r="1.8"/><circle cx="353" cy="323.1" r="1.8"/><circle cx="354.5" cy="322.7" r="1.8"/><circle cx="356.3" cy="322.3" r="1.8"/><circle cx="357" cy="323" r="1.8"/><circle cx="358.8" cy="322.3" r="1.8"/><circle cx="360.4" cy="323.2" r="1.8"/><circle cx="361.9" cy="322.6" r="1.8"/><circle cx="363" cy="322.4" r="1.8"/><circle cx="365.2" cy="322.7" r="1.8"/><circle cx="366.7" cy="322.3" r="1.8"/><circle cx="367.6" cy="322.3" r="1.8"/><circle cx="369.3" cy="322.3" r="1.8"/><circle cx="350.4" cy="324" r="1.8"/><circle cx="352.4" cy="323.8" r="1.8"/><circle cx="353.3" cy="323.9" r="1.8"/><circle cx="354.7" cy="324.3" r="1.8"/><circle cx="356.9" cy="323.9" r="1.8"/><circle cx="357.8" cy="323.7" r="1.8"/><circle cx="359.4" cy="323.7" r="1.8"/><circle cx="361" cy="324.1" r="1.8"/><circle cx="362.4" cy="323.7" r="1.8"/><circle cx="364.3" cy="323.6" r="1.8"/><circle cx="365.3" cy="323.9" r="1.8"/><circle cx="367" cy="323.7" r="1.8"/><circle cx="368.5" cy="323.9" r="1.8"/></g>
</g>
<path d="M299.58 345.75v-2.1M299.58 203.3v2.1M359.15 345.75v-2.1M359.15 203.3v2.1M418.72 345.75v-2.1M418.72 203.3v2.1M269.8 310.14h2.1M448.5 310.14h-2.1M269.8 274.52h2.1M448.5 274.52h-2.1M269.8 238.91h2.1M448.5 238.91h-2.1" stroke="#222" stroke-width="0.8" fill="none"/>
<rect x="269.8" y="203.3" width="178.7" height="142.45" fill="none" stroke="#4c4c4c" stroke-width="1"/>
<text class="tk" transform="translate(264.3 350.75) scale(1 1)" text-anchor="end">0</text>
<text class="tk" transform="translate(264.3 315.64) scale(1 1)" text-anchor="end">5</text>
<text class="tk" transform="translate(262.5 280.22) scale(1 1)" text-anchor="end">10</text>
<text class="tk" transform="translate(262.5 244.91) scale(1 1)" text-anchor="end">15</text>
<text class="tk" transform="translate(262.5 208.6) scale(1 1)" text-anchor="end">20</text>
<text class="tk" transform="translate(298.68 358.2) scale(0.99 1)" text-anchor="middle">-2</text>
<text class="tk" transform="translate(358.45 358.2) scale(0.99 1)" text-anchor="middle">0</text>
<text class="tk" transform="translate(418.02 358.2) scale(0.99 1)" text-anchor="middle">2</text>
<text class="lb" transform="translate(361.15 369.8) scale(1.05 1)" text-anchor="middle">Skewness <tspan class="gm" dy="-2.2">γ</tspan><tspan class="sub" dy="6.3">3</tspan></text>
<text class="lb" transform="translate(245.6 272.42) rotate(-90) scale(1.05 1)" text-anchor="middle">Kurtosis <tspan class="gm" dy="-3.6">γ</tspan><tspan class="sub" dy="4.9">4</tspan></text>
<text class="cap" transform="translate(358.15 384.85) scale(1.04 1)" text-anchor="middle">(e) Model-4</text>
<path d="M473 218.6H499" stroke="#5dba74" stroke-width="2.2" fill="none"/>
<text class="lg" transform="translate(501.6 222) scale(0.93 1)" textLength="56.13" lengthAdjust="spacing">1<tspan class="sup" dy="-3.8">st</tspan><tspan dy="3.8"> order SHM</tspan></text>
<circle cx="567" cy="218.7" r="2.45" fill="#3fae55"/>
<text class="lg" transform="translate(575.9 222) scale(0.93 1)" textLength="105.59" lengthAdjust="spacing">Data Points -1<tspan class="sup" dy="-3.8">st</tspan><tspan dy="3.8"> order SHM</tspan></text>
<path d="M473 244.7H499" stroke="#e3a332" stroke-width="2.2" fill="none"/>
<text class="lg" transform="translate(502.6 247) scale(0.93 1)" textLength="58.92" lengthAdjust="spacing">2<tspan class="sup" dy="-3.8">nd</tspan><tspan dy="3.8"> order SHM</tspan></text>
<circle cx="567" cy="244.2" r="2.45" fill="#f0c420"/>
<text class="lg" transform="translate(575.4 247) scale(0.93 1)" textLength="112.58" lengthAdjust="spacing">Data Points - 2<tspan class="sup" dy="-3.8">nd</tspan><tspan dy="3.8"> order SHM</tspan></text>
<path d="M473 269.2H499" stroke="#3574b8" stroke-width="2.2" fill="none"/>
<text class="lg" transform="translate(501.6 272.2) scale(0.93 1)" textLength="56.34" lengthAdjust="spacing">3<tspan class="sup" dy="-3.8">rd</tspan><tspan dy="3.8"> order SHM</tspan></text>
<circle cx="567" cy="269.6" r="2.45" fill="#3b62d8"/>
<text class="lg" transform="translate(574.6 272.2) scale(0.93 1)" textLength="111.94" lengthAdjust="spacing">Data Points - 3<tspan class="sup" dy="-3.8">rd</tspan><tspan dy="3.8"> order SHM</tspan></text>
<path d="M473 294.1H499" stroke="#c4323a" stroke-width="2.2" fill="none"/>
<text class="lg" transform="translate(502.6 297.8) scale(0.93 1)" textLength="56.34" lengthAdjust="spacing">4<tspan class="sup" dy="-3.8">th</tspan><tspan dy="3.8"> order SHM</tspan></text>
<circle cx="567" cy="294.7" r="2.45" fill="#c0281c"/>
<text class="lg" transform="translate(573.9 297.8) scale(0.93 1)" textLength="112.47" lengthAdjust="spacing">Data Points - 4<tspan class="sup" dy="-3.8">th</tspan><tspan dy="3.8"> order SHM</tspan></text>
<path d="M473 318H499" stroke="#a9c0e8" stroke-width="2.2" fill="none"/>
<text class="lg" transform="translate(501.4 321.1) scale(0.93 1)" textLength="23.23" lengthAdjust="spacing">HHM</text>
<circle cx="567" cy="317.9" r="2.45" fill="#c3d0ee"/>
<text class="lg" transform="translate(574.9 320.9) scale(0.93 1)" textLength="77.42" lengthAdjust="spacing">Data Points - HHM</text>
<path d="M473 341.6H499" stroke="#f0a58c" stroke-width="2.2" fill="none"/>
<text class="lg" transform="translate(502.4 344.8) scale(0.93 1)" textLength="27.1" lengthAdjust="spacing">SKHM</text>
<circle cx="567" cy="340.8" r="2.45" fill="#f3b5a4"/>
<text class="lg" transform="translate(574.4 343.8) scale(0.93 1)" textLength="80.75" lengthAdjust="spacing">Data Points - SKHM</text>
</svg>
</body>
</html>
